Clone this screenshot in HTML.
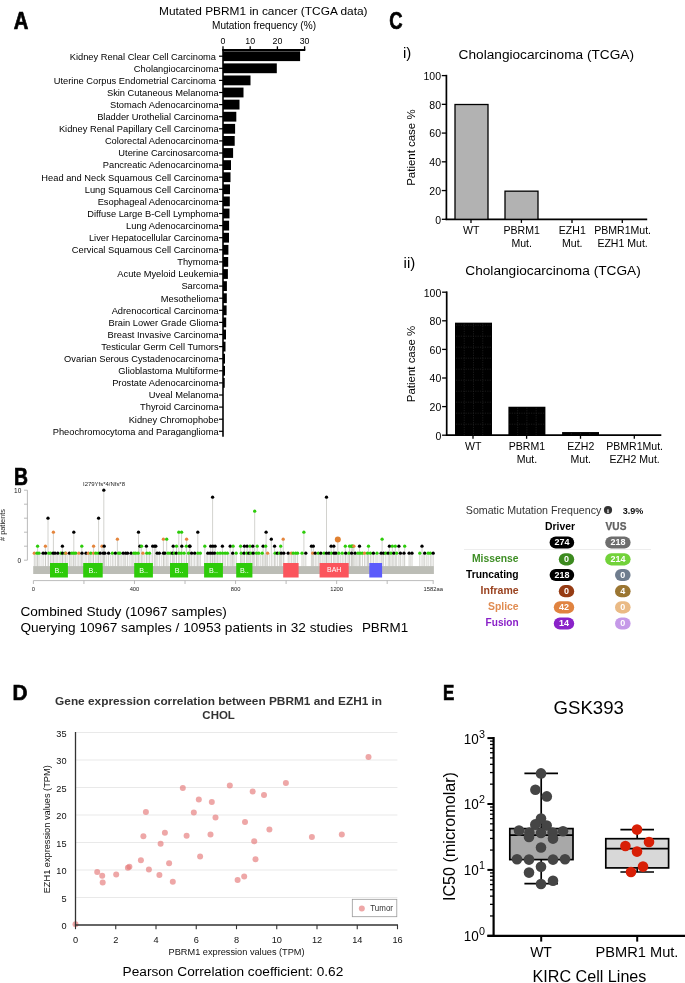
<!DOCTYPE html>
<html lang="en"><head><meta charset="utf-8"><title>PBRM1 figure</title>
<style>
html,body{margin:0;padding:0;background:#fff;}
body{width:685px;height:983px;overflow:hidden;}
svg{display:block;will-change:transform;font-family:"Liberation Sans",Arial,Helvetica,sans-serif;}
</style></head><body>
<svg width="685" height="983" viewBox="0 0 685 983">
<g id="panelA">
<text x="13.70" y="29.00" font-size="23.2" text-anchor="start" font-weight="bold" textLength="14.60" lengthAdjust="spacingAndGlyphs" stroke="#000" stroke-width="0.7">A</text>
<text x="159.00" y="15.00" font-size="11.5" text-anchor="start" textLength="208.50" lengthAdjust="spacingAndGlyphs">Mutated PBRM1 in cancer (TCGA data)</text>
<text x="212.00" y="29.40" font-size="10" text-anchor="start" textLength="104.00" lengthAdjust="spacingAndGlyphs">Mutation frequency (%)</text>
<text x="223.00" y="44.00" font-size="8.8" text-anchor="middle">0</text>
<line x1="223.00" y1="46.30" x2="223.00" y2="50.00" stroke="#000" stroke-width="1.3" />
<text x="250.20" y="44.00" font-size="8.8" text-anchor="middle">10</text>
<line x1="250.20" y1="46.30" x2="250.20" y2="50.00" stroke="#000" stroke-width="1.3" />
<text x="277.40" y="44.00" font-size="8.8" text-anchor="middle">20</text>
<line x1="277.40" y1="46.30" x2="277.40" y2="50.00" stroke="#000" stroke-width="1.3" />
<text x="304.60" y="44.00" font-size="8.8" text-anchor="middle">30</text>
<line x1="304.60" y1="46.30" x2="304.60" y2="50.00" stroke="#000" stroke-width="1.3" />
<line x1="222.30" y1="50.00" x2="305.30" y2="50.00" stroke="#000" stroke-width="2" />
<line x1="223.00" y1="49.00" x2="223.00" y2="436.80" stroke="#000" stroke-width="1.6" />
<line x1="219.00" y1="56.20" x2="223.00" y2="56.20" stroke="#000" stroke-width="1.2" />
<rect x="223.00" y="51.30" width="77.10" height="9.80" fill="#000"/>
<text x="218.6" y="59.50" font-size="9.3" text-anchor="end" xml:space="preserve">Kidney Renal Clear Cell Carcinoma </text>
<line x1="219.00" y1="68.30" x2="223.00" y2="68.30" stroke="#000" stroke-width="1.2" />
<rect x="223.00" y="63.40" width="53.80" height="9.80" fill="#000"/>
<text x="218.6" y="71.60" font-size="9.3" text-anchor="end" xml:space="preserve">Cholangiocarcinoma</text>
<line x1="219.00" y1="80.40" x2="223.00" y2="80.40" stroke="#000" stroke-width="1.2" />
<rect x="223.00" y="75.50" width="27.50" height="9.80" fill="#000"/>
<text x="218.6" y="83.70" font-size="9.3" text-anchor="end" xml:space="preserve">Uterine Corpus Endometrial Carcinoma </text>
<line x1="219.00" y1="92.50" x2="223.00" y2="92.50" stroke="#000" stroke-width="1.2" />
<rect x="223.00" y="87.60" width="20.50" height="9.80" fill="#000"/>
<text x="218.6" y="95.80" font-size="9.3" text-anchor="end" xml:space="preserve">Skin Cutaneous Melanoma</text>
<line x1="219.00" y1="104.60" x2="223.00" y2="104.60" stroke="#000" stroke-width="1.2" />
<rect x="223.00" y="99.70" width="16.50" height="9.80" fill="#000"/>
<text x="218.6" y="107.90" font-size="9.3" text-anchor="end" xml:space="preserve">Stomach Adenocarcinoma</text>
<line x1="219.00" y1="116.70" x2="223.00" y2="116.70" stroke="#000" stroke-width="1.2" />
<rect x="223.00" y="111.80" width="13.30" height="9.80" fill="#000"/>
<text x="218.6" y="120.00" font-size="9.3" text-anchor="end" xml:space="preserve">Bladder Urothelial Carcinoma</text>
<line x1="219.00" y1="128.80" x2="223.00" y2="128.80" stroke="#000" stroke-width="1.2" />
<rect x="223.00" y="123.90" width="12.10" height="9.80" fill="#000"/>
<text x="218.6" y="132.10" font-size="9.3" text-anchor="end" xml:space="preserve">Kidney Renal Papillary Cell Carcinoma</text>
<line x1="219.00" y1="140.90" x2="223.00" y2="140.90" stroke="#000" stroke-width="1.2" />
<rect x="223.00" y="136.00" width="11.70" height="9.80" fill="#000"/>
<text x="218.6" y="144.20" font-size="9.3" text-anchor="end" xml:space="preserve">Colorectal Adenocarcinoma</text>
<line x1="219.00" y1="153.00" x2="223.00" y2="153.00" stroke="#000" stroke-width="1.2" />
<rect x="223.00" y="148.10" width="10.10" height="9.80" fill="#000"/>
<text x="218.6" y="156.30" font-size="9.3" text-anchor="end" xml:space="preserve">Uterine Carcinosarcoma</text>
<line x1="219.00" y1="165.10" x2="223.00" y2="165.10" stroke="#000" stroke-width="1.2" />
<rect x="223.00" y="160.20" width="8.00" height="9.80" fill="#000"/>
<text x="218.6" y="168.40" font-size="9.3" text-anchor="end" xml:space="preserve">Pancreatic Adenocarcinoma</text>
<line x1="219.00" y1="177.20" x2="223.00" y2="177.20" stroke="#000" stroke-width="1.2" />
<rect x="223.00" y="172.30" width="7.50" height="9.80" fill="#000"/>
<text x="218.6" y="180.50" font-size="9.3" text-anchor="end" xml:space="preserve">Head and Neck Squamous Cell Carcinoma</text>
<line x1="219.00" y1="189.30" x2="223.00" y2="189.30" stroke="#000" stroke-width="1.2" />
<rect x="223.00" y="184.40" width="7.00" height="9.80" fill="#000"/>
<text x="218.6" y="192.60" font-size="9.3" text-anchor="end" xml:space="preserve">Lung Squamous Cell Carcinoma</text>
<line x1="219.00" y1="201.40" x2="223.00" y2="201.40" stroke="#000" stroke-width="1.2" />
<rect x="223.00" y="196.50" width="6.80" height="9.80" fill="#000"/>
<text x="218.6" y="204.70" font-size="9.3" text-anchor="end" xml:space="preserve">Esophageal Adenocarcinoma</text>
<line x1="219.00" y1="213.50" x2="223.00" y2="213.50" stroke="#000" stroke-width="1.2" />
<rect x="223.00" y="208.60" width="6.50" height="9.80" fill="#000"/>
<text x="218.6" y="216.80" font-size="9.3" text-anchor="end" xml:space="preserve">Diffuse Large B-Cell Lymphoma</text>
<line x1="219.00" y1="225.60" x2="223.00" y2="225.60" stroke="#000" stroke-width="1.2" />
<rect x="223.00" y="220.70" width="6.10" height="9.80" fill="#000"/>
<text x="218.6" y="228.90" font-size="9.3" text-anchor="end" xml:space="preserve">Lung Adenocarcinoma</text>
<line x1="219.00" y1="237.70" x2="223.00" y2="237.70" stroke="#000" stroke-width="1.2" />
<rect x="223.00" y="232.80" width="6.00" height="9.80" fill="#000"/>
<text x="218.6" y="241.00" font-size="9.3" text-anchor="end" xml:space="preserve">Liver Hepatocellular Carcinoma</text>
<line x1="219.00" y1="249.80" x2="223.00" y2="249.80" stroke="#000" stroke-width="1.2" />
<rect x="223.00" y="244.90" width="5.40" height="9.80" fill="#000"/>
<text x="218.6" y="253.10" font-size="9.3" text-anchor="end" xml:space="preserve">Cervical Squamous Cell Carcinoma</text>
<line x1="219.00" y1="261.90" x2="223.00" y2="261.90" stroke="#000" stroke-width="1.2" />
<rect x="223.00" y="257.00" width="5.20" height="9.80" fill="#000"/>
<text x="218.6" y="265.20" font-size="9.3" text-anchor="end" xml:space="preserve">Thymoma</text>
<line x1="219.00" y1="274.00" x2="223.00" y2="274.00" stroke="#000" stroke-width="1.2" />
<rect x="223.00" y="269.10" width="4.90" height="9.80" fill="#000"/>
<text x="218.6" y="277.30" font-size="9.3" text-anchor="end" xml:space="preserve">Acute Myeloid Leukemia</text>
<line x1="219.00" y1="286.10" x2="223.00" y2="286.10" stroke="#000" stroke-width="1.2" />
<rect x="223.00" y="281.20" width="3.90" height="9.80" fill="#000"/>
<text x="218.6" y="289.40" font-size="9.3" text-anchor="end" xml:space="preserve">Sarcoma</text>
<line x1="219.00" y1="298.20" x2="223.00" y2="298.20" stroke="#000" stroke-width="1.2" />
<rect x="223.00" y="293.30" width="3.80" height="9.80" fill="#000"/>
<text x="218.6" y="301.50" font-size="9.3" text-anchor="end" xml:space="preserve">Mesothelioma</text>
<line x1="219.00" y1="310.30" x2="223.00" y2="310.30" stroke="#000" stroke-width="1.2" />
<rect x="223.00" y="305.40" width="3.60" height="9.80" fill="#000"/>
<text x="218.6" y="313.60" font-size="9.3" text-anchor="end" xml:space="preserve">Adrenocortical Carcinoma</text>
<line x1="219.00" y1="322.40" x2="223.00" y2="322.40" stroke="#000" stroke-width="1.2" />
<rect x="223.00" y="317.50" width="3.20" height="9.80" fill="#000"/>
<text x="218.6" y="325.70" font-size="9.3" text-anchor="end" xml:space="preserve">Brain Lower Grade Glioma</text>
<line x1="219.00" y1="334.50" x2="223.00" y2="334.50" stroke="#000" stroke-width="1.2" />
<rect x="223.00" y="329.60" width="3.00" height="9.80" fill="#000"/>
<text x="218.6" y="337.80" font-size="9.3" text-anchor="end" xml:space="preserve">Breast Invasive Carcinoma</text>
<line x1="219.00" y1="346.60" x2="223.00" y2="346.60" stroke="#000" stroke-width="1.2" />
<rect x="223.00" y="341.70" width="2.50" height="9.80" fill="#000"/>
<text x="218.6" y="349.90" font-size="9.3" text-anchor="end" xml:space="preserve">Testicular Germ Cell Tumors</text>
<line x1="219.00" y1="358.70" x2="223.00" y2="358.70" stroke="#000" stroke-width="1.2" />
<rect x="223.00" y="353.80" width="2.00" height="9.80" fill="#000"/>
<text x="218.6" y="362.00" font-size="9.3" text-anchor="end" xml:space="preserve">Ovarian Serous Cystadenocarcinoma</text>
<line x1="219.00" y1="370.80" x2="223.00" y2="370.80" stroke="#000" stroke-width="1.2" />
<rect x="223.00" y="365.90" width="2.00" height="9.80" fill="#000"/>
<text x="218.6" y="374.10" font-size="9.3" text-anchor="end" xml:space="preserve">Glioblastoma Multiforme</text>
<line x1="219.00" y1="382.90" x2="223.00" y2="382.90" stroke="#000" stroke-width="1.2" />
<rect x="223.00" y="378.00" width="1.70" height="9.80" fill="#000"/>
<text x="218.6" y="386.20" font-size="9.3" text-anchor="end" xml:space="preserve">Prostate Adenocarcinoma</text>
<line x1="219.00" y1="395.00" x2="223.00" y2="395.00" stroke="#000" stroke-width="1.2" />
<text x="218.6" y="398.30" font-size="9.3" text-anchor="end" xml:space="preserve">Uveal Melanoma</text>
<line x1="219.00" y1="407.10" x2="223.00" y2="407.10" stroke="#000" stroke-width="1.2" />
<text x="218.6" y="410.40" font-size="9.3" text-anchor="end" xml:space="preserve">Thyroid Carcinoma</text>
<line x1="219.00" y1="419.20" x2="223.00" y2="419.20" stroke="#000" stroke-width="1.2" />
<text x="218.6" y="422.50" font-size="9.3" text-anchor="end" xml:space="preserve">Kidney Chromophobe</text>
<line x1="219.00" y1="431.30" x2="223.00" y2="431.30" stroke="#000" stroke-width="1.2" />
<text x="218.6" y="434.60" font-size="9.3" text-anchor="end" xml:space="preserve">Pheochromocytoma and Paraganglioma</text>
</g>
<g id="panelC">
<text x="389.20" y="29.00" font-size="23.4" text-anchor="start" font-weight="bold" textLength="13.30" lengthAdjust="spacingAndGlyphs" stroke="#000" stroke-width="0.7">C</text>
<text x="403.00" y="57.60" font-size="15" text-anchor="start">i)</text>
<text x="458.60" y="59.00" font-size="13.66" text-anchor="start" textLength="175.40" lengthAdjust="spacingAndGlyphs">Cholangiocarcinoma (TCGA)</text>
<line x1="446.40" y1="74.80" x2="446.40" y2="220.10" stroke="#000" stroke-width="1.7" />
<line x1="445.60" y1="219.30" x2="647.20" y2="219.30" stroke="#000" stroke-width="1.7" />
<line x1="441.80" y1="219.30" x2="446.40" y2="219.30" stroke="#000" stroke-width="1.3" />
<text x="441.00" y="223.70" font-size="10.5" text-anchor="end">0</text>
<line x1="441.80" y1="190.56" x2="446.40" y2="190.56" stroke="#000" stroke-width="1.3" />
<text x="441.00" y="194.96" font-size="10.5" text-anchor="end">20</text>
<line x1="441.80" y1="161.82" x2="446.40" y2="161.82" stroke="#000" stroke-width="1.3" />
<text x="441.00" y="166.22" font-size="10.5" text-anchor="end">40</text>
<line x1="441.80" y1="133.08" x2="446.40" y2="133.08" stroke="#000" stroke-width="1.3" />
<text x="441.00" y="137.48" font-size="10.5" text-anchor="end">60</text>
<line x1="441.80" y1="104.34" x2="446.40" y2="104.34" stroke="#000" stroke-width="1.3" />
<text x="441.00" y="108.74" font-size="10.5" text-anchor="end">80</text>
<line x1="441.80" y1="75.60" x2="446.40" y2="75.60" stroke="#000" stroke-width="1.3" />
<text x="441.00" y="80.00" font-size="10.5" text-anchor="end">100</text>
<text x="415.30" y="147.60" font-size="11.5" text-anchor="middle" textLength="76.40" lengthAdjust="spacingAndGlyphs" transform="rotate(-90 415.30 147.60)">Patient case %</text>
<rect x="455.00" y="104.51" width="33.00" height="114.79" fill="#b2b2b2" stroke="#000" stroke-width="1.3"/>
<rect x="505.00" y="191.16" width="33.00" height="28.14" fill="#b2b2b2" stroke="#000" stroke-width="1.3"/>
<line x1="471.00" y1="219.30" x2="471.00" y2="222.90" stroke="#000" stroke-width="1.3" />
<line x1="521.40" y1="219.30" x2="521.40" y2="222.90" stroke="#000" stroke-width="1.3" />
<line x1="572.00" y1="219.30" x2="572.00" y2="222.90" stroke="#000" stroke-width="1.3" />
<line x1="622.30" y1="219.30" x2="622.30" y2="222.90" stroke="#000" stroke-width="1.3" />
<text x="471.30" y="234.20" font-size="10.55" text-anchor="middle">WT</text>
<text x="521.70" y="234.20" font-size="10.55" text-anchor="middle">PBRM1</text>
<text x="521.70" y="246.50" font-size="10.55" text-anchor="middle">Mut.</text>
<text x="572.30" y="234.20" font-size="10.55" text-anchor="middle">EZH1</text>
<text x="572.30" y="246.50" font-size="10.55" text-anchor="middle">Mut.</text>
<text x="622.60" y="234.20" font-size="10.55" text-anchor="middle">PBMR1Mut.</text>
<text x="622.60" y="246.50" font-size="10.55" text-anchor="middle">EZH1 Mut.</text>
<text x="403.60" y="268.00" font-size="15" text-anchor="start">ii)</text>
<text x="465.30" y="275.00" font-size="13.66" text-anchor="start" textLength="175.40" lengthAdjust="spacingAndGlyphs">Cholangiocarcinoma (TCGA)</text>
<line x1="446.70" y1="291.40" x2="446.70" y2="436.00" stroke="#000" stroke-width="1.7" />
<line x1="445.90" y1="435.20" x2="661.30" y2="435.20" stroke="#000" stroke-width="1.7" />
<line x1="442.10" y1="435.20" x2="446.70" y2="435.20" stroke="#000" stroke-width="1.3" />
<text x="441.30" y="439.60" font-size="10.5" text-anchor="end">0</text>
<line x1="442.10" y1="406.60" x2="446.70" y2="406.60" stroke="#000" stroke-width="1.3" />
<text x="441.30" y="411.00" font-size="10.5" text-anchor="end">20</text>
<line x1="442.10" y1="378.00" x2="446.70" y2="378.00" stroke="#000" stroke-width="1.3" />
<text x="441.30" y="382.40" font-size="10.5" text-anchor="end">40</text>
<line x1="442.10" y1="349.40" x2="446.70" y2="349.40" stroke="#000" stroke-width="1.3" />
<text x="441.30" y="353.80" font-size="10.5" text-anchor="end">60</text>
<line x1="442.10" y1="320.80" x2="446.70" y2="320.80" stroke="#000" stroke-width="1.3" />
<text x="441.30" y="325.20" font-size="10.5" text-anchor="end">80</text>
<line x1="442.10" y1="292.20" x2="446.70" y2="292.20" stroke="#000" stroke-width="1.3" />
<text x="441.30" y="296.60" font-size="10.5" text-anchor="end">100</text>
<text x="415.30" y="364.00" font-size="11.5" text-anchor="middle" textLength="76.40" lengthAdjust="spacingAndGlyphs" transform="rotate(-90 415.30 364.00)">Patient case %</text>
<rect x="455.00" y="322.66" width="37.00" height="112.54" fill="#000"/>
<line x1="464.25" y1="323.66" x2="464.25" y2="435.20" stroke="#2b2b2b" stroke-width="0.6" stroke-dasharray="1.2 1.2"/>
<line x1="473.50" y1="323.66" x2="473.50" y2="435.20" stroke="#2b2b2b" stroke-width="0.6" stroke-dasharray="1.2 1.2"/>
<line x1="482.75" y1="323.66" x2="482.75" y2="435.20" stroke="#2b2b2b" stroke-width="0.6" stroke-dasharray="1.2 1.2"/>
<line x1="456.00" y1="424.20" x2="491.00" y2="424.20" stroke="#2b2b2b" stroke-width="0.6" stroke-dasharray="1.2 1.2"/>
<line x1="456.00" y1="413.20" x2="491.00" y2="413.20" stroke="#2b2b2b" stroke-width="0.6" stroke-dasharray="1.2 1.2"/>
<line x1="456.00" y1="402.20" x2="491.00" y2="402.20" stroke="#2b2b2b" stroke-width="0.6" stroke-dasharray="1.2 1.2"/>
<line x1="456.00" y1="391.20" x2="491.00" y2="391.20" stroke="#2b2b2b" stroke-width="0.6" stroke-dasharray="1.2 1.2"/>
<line x1="456.00" y1="380.20" x2="491.00" y2="380.20" stroke="#2b2b2b" stroke-width="0.6" stroke-dasharray="1.2 1.2"/>
<line x1="456.00" y1="369.20" x2="491.00" y2="369.20" stroke="#2b2b2b" stroke-width="0.6" stroke-dasharray="1.2 1.2"/>
<line x1="456.00" y1="358.20" x2="491.00" y2="358.20" stroke="#2b2b2b" stroke-width="0.6" stroke-dasharray="1.2 1.2"/>
<line x1="456.00" y1="347.20" x2="491.00" y2="347.20" stroke="#2b2b2b" stroke-width="0.6" stroke-dasharray="1.2 1.2"/>
<line x1="456.00" y1="336.20" x2="491.00" y2="336.20" stroke="#2b2b2b" stroke-width="0.6" stroke-dasharray="1.2 1.2"/>
<line x1="456.00" y1="325.20" x2="491.00" y2="325.20" stroke="#2b2b2b" stroke-width="0.6" stroke-dasharray="1.2 1.2"/>
<rect x="508.40" y="406.74" width="37.00" height="28.46" fill="#000"/>
<line x1="517.65" y1="407.74" x2="517.65" y2="435.20" stroke="#2b2b2b" stroke-width="0.6" stroke-dasharray="1.2 1.2"/>
<line x1="526.90" y1="407.74" x2="526.90" y2="435.20" stroke="#2b2b2b" stroke-width="0.6" stroke-dasharray="1.2 1.2"/>
<line x1="536.15" y1="407.74" x2="536.15" y2="435.20" stroke="#2b2b2b" stroke-width="0.6" stroke-dasharray="1.2 1.2"/>
<line x1="509.40" y1="424.20" x2="544.40" y2="424.20" stroke="#2b2b2b" stroke-width="0.6" stroke-dasharray="1.2 1.2"/>
<line x1="509.40" y1="413.20" x2="544.40" y2="413.20" stroke="#2b2b2b" stroke-width="0.6" stroke-dasharray="1.2 1.2"/>
<rect x="562.10" y="432.05" width="36.90" height="3.15" fill="#000"/>
<line x1="571.33" y1="433.05" x2="571.33" y2="435.20" stroke="#2b2b2b" stroke-width="0.6" stroke-dasharray="1.2 1.2"/>
<line x1="580.55" y1="433.05" x2="580.55" y2="435.20" stroke="#2b2b2b" stroke-width="0.6" stroke-dasharray="1.2 1.2"/>
<line x1="589.77" y1="433.05" x2="589.77" y2="435.20" stroke="#2b2b2b" stroke-width="0.6" stroke-dasharray="1.2 1.2"/>
<line x1="473.00" y1="435.20" x2="473.00" y2="438.80" stroke="#000" stroke-width="1.3" />
<line x1="526.60" y1="435.20" x2="526.60" y2="438.80" stroke="#000" stroke-width="1.3" />
<line x1="580.50" y1="435.20" x2="580.50" y2="438.80" stroke="#000" stroke-width="1.3" />
<line x1="634.30" y1="435.20" x2="634.30" y2="438.80" stroke="#000" stroke-width="1.3" />
<text x="473.30" y="450.40" font-size="10.55" text-anchor="middle">WT</text>
<text x="526.90" y="450.40" font-size="10.55" text-anchor="middle">PBRM1</text>
<text x="526.90" y="462.70" font-size="10.55" text-anchor="middle">Mut.</text>
<text x="580.80" y="450.40" font-size="10.55" text-anchor="middle">EZH2</text>
<text x="580.80" y="462.70" font-size="10.55" text-anchor="middle">Mut.</text>
<text x="634.60" y="450.40" font-size="10.55" text-anchor="middle">PBMR1Mut.</text>
<text x="634.60" y="462.70" font-size="10.55" text-anchor="middle">EZH2 Mut.</text>
</g>
<g id="panelB">
<text x="13.95" y="484.90" font-size="23.0" text-anchor="start" font-weight="bold" textLength="14.00" lengthAdjust="spacingAndGlyphs" stroke="#000" stroke-width="0.7">B</text>
<line x1="27.40" y1="490.20" x2="27.40" y2="560.20" stroke="#aaa" stroke-width="0.8" />
<line x1="24.00" y1="560.20" x2="27.40" y2="560.20" stroke="#aaa" stroke-width="0.8" />
<line x1="24.00" y1="546.20" x2="27.40" y2="546.20" stroke="#aaa" stroke-width="0.8" />
<line x1="24.00" y1="532.20" x2="27.40" y2="532.20" stroke="#aaa" stroke-width="0.8" />
<line x1="24.00" y1="518.20" x2="27.40" y2="518.20" stroke="#aaa" stroke-width="0.8" />
<line x1="24.00" y1="504.20" x2="27.40" y2="504.20" stroke="#aaa" stroke-width="0.8" />
<line x1="24.00" y1="490.20" x2="27.40" y2="490.20" stroke="#aaa" stroke-width="0.8" />
<text x="21.30" y="492.60" font-size="6.5" text-anchor="end" fill="#111">10</text>
<text x="21.10" y="562.60" font-size="6.5" text-anchor="end" fill="#111">0</text>
<text x="5.40" y="525.00" font-size="7" text-anchor="middle" fill="#222" textLength="32.00" lengthAdjust="spacingAndGlyphs" transform="rotate(-90 5.40 525.00)"># patients</text>
<text x="83.00" y="486.00" font-size="5.6" text-anchor="start" fill="#222" textLength="42.00" lengthAdjust="spacingAndGlyphs">I279Yfs*4/Nfs*8</text>
<line x1="34.30" y1="553.20" x2="34.30" y2="566.50" stroke="#c6c6c2" stroke-width="0.8" />
<line x1="37.00" y1="553.20" x2="37.00" y2="566.50" stroke="#c6c6c2" stroke-width="0.8" />
<line x1="37.60" y1="546.20" x2="37.60" y2="566.50" stroke="#c6c6c2" stroke-width="0.8" />
<line x1="39.00" y1="553.20" x2="39.00" y2="566.50" stroke="#c6c6c2" stroke-width="0.8" />
<line x1="43.10" y1="553.20" x2="43.10" y2="566.50" stroke="#c6c6c2" stroke-width="0.8" />
<line x1="45.40" y1="546.20" x2="45.40" y2="566.50" stroke="#c6c6c2" stroke-width="0.8" />
<line x1="45.60" y1="553.20" x2="45.60" y2="566.50" stroke="#c6c6c2" stroke-width="0.8" />
<line x1="48.00" y1="518.20" x2="48.00" y2="566.50" stroke="#c6c6c2" stroke-width="0.8" />
<line x1="48.70" y1="553.20" x2="48.70" y2="566.50" stroke="#c6c6c2" stroke-width="0.8" />
<line x1="50.60" y1="553.20" x2="50.60" y2="566.50" stroke="#c6c6c2" stroke-width="0.8" />
<line x1="53.10" y1="553.20" x2="53.10" y2="566.50" stroke="#c6c6c2" stroke-width="0.8" />
<line x1="53.40" y1="532.20" x2="53.40" y2="566.50" stroke="#c6c6c2" stroke-width="0.8" />
<line x1="55.00" y1="553.20" x2="55.00" y2="566.50" stroke="#c6c6c2" stroke-width="0.8" />
<line x1="57.80" y1="553.20" x2="57.80" y2="566.50" stroke="#c6c6c2" stroke-width="0.8" />
<line x1="60.90" y1="553.20" x2="60.90" y2="566.50" stroke="#c6c6c2" stroke-width="0.8" />
<line x1="62.40" y1="546.20" x2="62.40" y2="566.50" stroke="#c6c6c2" stroke-width="0.8" />
<line x1="62.50" y1="553.20" x2="62.50" y2="566.50" stroke="#c6c6c2" stroke-width="0.8" />
<line x1="65.20" y1="553.20" x2="65.20" y2="566.50" stroke="#c6c6c2" stroke-width="0.8" />
<line x1="65.90" y1="553.20" x2="65.90" y2="566.50" stroke="#c6c6c2" stroke-width="0.8" />
<line x1="69.40" y1="553.20" x2="69.40" y2="566.50" stroke="#c6c6c2" stroke-width="0.8" />
<line x1="71.90" y1="553.20" x2="71.90" y2="566.50" stroke="#c6c6c2" stroke-width="0.8" />
<line x1="73.80" y1="553.20" x2="73.80" y2="566.50" stroke="#c6c6c2" stroke-width="0.8" />
<line x1="73.80" y1="532.20" x2="73.80" y2="566.50" stroke="#c6c6c2" stroke-width="0.8" />
<line x1="75.70" y1="553.20" x2="75.70" y2="566.50" stroke="#c6c6c2" stroke-width="0.8" />
<line x1="78.80" y1="553.20" x2="78.80" y2="566.50" stroke="#c6c6c2" stroke-width="0.8" />
<line x1="81.80" y1="546.20" x2="81.80" y2="566.50" stroke="#c6c6c2" stroke-width="0.8" />
<line x1="82.00" y1="553.20" x2="82.00" y2="566.50" stroke="#c6c6c2" stroke-width="0.8" />
<line x1="86.00" y1="553.20" x2="86.00" y2="566.50" stroke="#c6c6c2" stroke-width="0.8" />
<line x1="88.30" y1="553.20" x2="88.30" y2="566.50" stroke="#c6c6c2" stroke-width="0.8" />
<line x1="90.80" y1="553.20" x2="90.80" y2="566.50" stroke="#c6c6c2" stroke-width="0.8" />
<line x1="93.50" y1="553.20" x2="93.50" y2="566.50" stroke="#c6c6c2" stroke-width="0.8" />
<line x1="93.60" y1="546.20" x2="93.60" y2="566.50" stroke="#c6c6c2" stroke-width="0.8" />
<line x1="95.80" y1="553.20" x2="95.80" y2="566.50" stroke="#c6c6c2" stroke-width="0.8" />
<line x1="98.30" y1="553.20" x2="98.30" y2="566.50" stroke="#c6c6c2" stroke-width="0.8" />
<line x1="98.60" y1="518.20" x2="98.60" y2="566.50" stroke="#c6c6c2" stroke-width="0.8" />
<line x1="100.20" y1="553.20" x2="100.20" y2="566.50" stroke="#c6c6c2" stroke-width="0.8" />
<line x1="102.00" y1="546.20" x2="102.00" y2="566.50" stroke="#c6c6c2" stroke-width="0.8" />
<line x1="103.30" y1="553.20" x2="103.30" y2="566.50" stroke="#c6c6c2" stroke-width="0.8" />
<line x1="103.80" y1="490.20" x2="103.80" y2="566.50" stroke="#c6c6c2" stroke-width="0.8" />
<line x1="104.20" y1="546.20" x2="104.20" y2="566.50" stroke="#c6c6c2" stroke-width="0.8" />
<line x1="104.80" y1="553.20" x2="104.80" y2="566.50" stroke="#c6c6c2" stroke-width="0.8" />
<line x1="108.60" y1="553.20" x2="108.60" y2="566.50" stroke="#c6c6c2" stroke-width="0.8" />
<line x1="112.30" y1="553.20" x2="112.30" y2="566.50" stroke="#c6c6c2" stroke-width="0.8" />
<line x1="115.40" y1="553.20" x2="115.40" y2="566.50" stroke="#c6c6c2" stroke-width="0.8" />
<line x1="117.40" y1="539.20" x2="117.40" y2="566.50" stroke="#c6c6c2" stroke-width="0.8" />
<line x1="118.50" y1="553.20" x2="118.50" y2="566.50" stroke="#c6c6c2" stroke-width="0.8" />
<line x1="120.00" y1="553.20" x2="120.00" y2="566.50" stroke="#c6c6c2" stroke-width="0.8" />
<line x1="123.20" y1="553.20" x2="123.20" y2="566.50" stroke="#c6c6c2" stroke-width="0.8" />
<line x1="125.70" y1="553.20" x2="125.70" y2="566.50" stroke="#c6c6c2" stroke-width="0.8" />
<line x1="127.60" y1="553.20" x2="127.60" y2="566.50" stroke="#c6c6c2" stroke-width="0.8" />
<line x1="131.10" y1="553.20" x2="131.10" y2="566.50" stroke="#c6c6c2" stroke-width="0.8" />
<line x1="133.90" y1="553.20" x2="133.90" y2="566.50" stroke="#c6c6c2" stroke-width="0.8" />
<line x1="135.70" y1="553.20" x2="135.70" y2="566.50" stroke="#c6c6c2" stroke-width="0.8" />
<line x1="138.20" y1="553.20" x2="138.20" y2="566.50" stroke="#c6c6c2" stroke-width="0.8" />
<line x1="138.50" y1="532.20" x2="138.50" y2="566.50" stroke="#c6c6c2" stroke-width="0.8" />
<line x1="139.90" y1="546.20" x2="139.90" y2="566.50" stroke="#c6c6c2" stroke-width="0.8" />
<line x1="141.60" y1="546.20" x2="141.60" y2="566.50" stroke="#c6c6c2" stroke-width="0.8" />
<line x1="142.90" y1="553.20" x2="142.90" y2="566.50" stroke="#c6c6c2" stroke-width="0.8" />
<line x1="146.40" y1="546.20" x2="146.40" y2="566.50" stroke="#c6c6c2" stroke-width="0.8" />
<line x1="146.80" y1="553.20" x2="146.80" y2="566.50" stroke="#c6c6c2" stroke-width="0.8" />
<line x1="149.50" y1="553.20" x2="149.50" y2="566.50" stroke="#c6c6c2" stroke-width="0.8" />
<line x1="152.70" y1="546.20" x2="152.70" y2="566.50" stroke="#c6c6c2" stroke-width="0.8" />
<line x1="154.60" y1="546.20" x2="154.60" y2="566.50" stroke="#c6c6c2" stroke-width="0.8" />
<line x1="155.80" y1="546.20" x2="155.80" y2="566.50" stroke="#c6c6c2" stroke-width="0.8" />
<line x1="157.10" y1="553.20" x2="157.10" y2="566.50" stroke="#c6c6c2" stroke-width="0.8" />
<line x1="159.30" y1="553.20" x2="159.30" y2="566.50" stroke="#c6c6c2" stroke-width="0.8" />
<line x1="163.40" y1="553.20" x2="163.40" y2="566.50" stroke="#c6c6c2" stroke-width="0.8" />
<line x1="163.40" y1="539.20" x2="163.40" y2="566.50" stroke="#c6c6c2" stroke-width="0.8" />
<line x1="164.90" y1="553.20" x2="164.90" y2="566.50" stroke="#c6c6c2" stroke-width="0.8" />
<line x1="166.70" y1="539.20" x2="166.70" y2="566.50" stroke="#c6c6c2" stroke-width="0.8" />
<line x1="168.00" y1="553.20" x2="168.00" y2="566.50" stroke="#c6c6c2" stroke-width="0.8" />
<line x1="170.30" y1="553.20" x2="170.30" y2="566.50" stroke="#c6c6c2" stroke-width="0.8" />
<line x1="172.40" y1="553.20" x2="172.40" y2="566.50" stroke="#c6c6c2" stroke-width="0.8" />
<line x1="173.20" y1="546.20" x2="173.20" y2="566.50" stroke="#c6c6c2" stroke-width="0.8" />
<line x1="174.30" y1="553.20" x2="174.30" y2="566.50" stroke="#c6c6c2" stroke-width="0.8" />
<line x1="176.30" y1="553.20" x2="176.30" y2="566.50" stroke="#c6c6c2" stroke-width="0.8" />
<line x1="176.50" y1="546.20" x2="176.50" y2="566.50" stroke="#c6c6c2" stroke-width="0.8" />
<line x1="178.80" y1="532.20" x2="178.80" y2="566.50" stroke="#c6c6c2" stroke-width="0.8" />
<line x1="179.00" y1="553.20" x2="179.00" y2="566.50" stroke="#c6c6c2" stroke-width="0.8" />
<line x1="181.30" y1="553.20" x2="181.30" y2="566.50" stroke="#c6c6c2" stroke-width="0.8" />
<line x1="181.60" y1="532.20" x2="181.60" y2="566.50" stroke="#c6c6c2" stroke-width="0.8" />
<line x1="181.80" y1="546.20" x2="181.80" y2="566.50" stroke="#c6c6c2" stroke-width="0.8" />
<line x1="184.10" y1="553.20" x2="184.10" y2="566.50" stroke="#c6c6c2" stroke-width="0.8" />
<line x1="186.30" y1="546.20" x2="186.30" y2="566.50" stroke="#c6c6c2" stroke-width="0.8" />
<line x1="186.60" y1="539.20" x2="186.60" y2="566.50" stroke="#c6c6c2" stroke-width="0.8" />
<line x1="188.50" y1="553.20" x2="188.50" y2="566.50" stroke="#c6c6c2" stroke-width="0.8" />
<line x1="189.50" y1="546.20" x2="189.50" y2="566.50" stroke="#c6c6c2" stroke-width="0.8" />
<line x1="190.00" y1="546.20" x2="190.00" y2="566.50" stroke="#c6c6c2" stroke-width="0.8" />
<line x1="191.60" y1="553.20" x2="191.60" y2="566.50" stroke="#c6c6c2" stroke-width="0.8" />
<line x1="194.70" y1="553.20" x2="194.70" y2="566.50" stroke="#c6c6c2" stroke-width="0.8" />
<line x1="197.80" y1="553.20" x2="197.80" y2="566.50" stroke="#c6c6c2" stroke-width="0.8" />
<line x1="197.80" y1="532.20" x2="197.80" y2="566.50" stroke="#c6c6c2" stroke-width="0.8" />
<line x1="200.30" y1="553.20" x2="200.30" y2="566.50" stroke="#c6c6c2" stroke-width="0.8" />
<line x1="204.80" y1="546.20" x2="204.80" y2="566.50" stroke="#c6c6c2" stroke-width="0.8" />
<line x1="207.80" y1="553.20" x2="207.80" y2="566.50" stroke="#c6c6c2" stroke-width="0.8" />
<line x1="210.10" y1="553.20" x2="210.10" y2="566.50" stroke="#c6c6c2" stroke-width="0.8" />
<line x1="210.70" y1="546.20" x2="210.70" y2="566.50" stroke="#c6c6c2" stroke-width="0.8" />
<line x1="212.30" y1="553.20" x2="212.30" y2="566.50" stroke="#c6c6c2" stroke-width="0.8" />
<line x1="212.60" y1="497.20" x2="212.60" y2="566.50" stroke="#c6c6c2" stroke-width="0.8" />
<line x1="212.90" y1="546.20" x2="212.90" y2="566.50" stroke="#c6c6c2" stroke-width="0.8" />
<line x1="214.50" y1="553.20" x2="214.50" y2="566.50" stroke="#c6c6c2" stroke-width="0.8" />
<line x1="215.10" y1="546.20" x2="215.10" y2="566.50" stroke="#c6c6c2" stroke-width="0.8" />
<line x1="217.60" y1="553.20" x2="217.60" y2="566.50" stroke="#c6c6c2" stroke-width="0.8" />
<line x1="220.10" y1="553.20" x2="220.10" y2="566.50" stroke="#c6c6c2" stroke-width="0.8" />
<line x1="222.40" y1="546.20" x2="222.40" y2="566.50" stroke="#c6c6c2" stroke-width="0.8" />
<line x1="222.60" y1="553.20" x2="222.60" y2="566.50" stroke="#c6c6c2" stroke-width="0.8" />
<line x1="225.20" y1="553.20" x2="225.20" y2="566.50" stroke="#c6c6c2" stroke-width="0.8" />
<line x1="227.40" y1="553.20" x2="227.40" y2="566.50" stroke="#c6c6c2" stroke-width="0.8" />
<line x1="230.20" y1="546.20" x2="230.20" y2="566.50" stroke="#c6c6c2" stroke-width="0.8" />
<line x1="232.70" y1="553.20" x2="232.70" y2="566.50" stroke="#c6c6c2" stroke-width="0.8" />
<line x1="233.10" y1="546.20" x2="233.10" y2="566.50" stroke="#c6c6c2" stroke-width="0.8" />
<line x1="236.20" y1="553.20" x2="236.20" y2="566.50" stroke="#c6c6c2" stroke-width="0.8" />
<line x1="240.60" y1="546.20" x2="240.60" y2="566.50" stroke="#c6c6c2" stroke-width="0.8" />
<line x1="241.20" y1="553.20" x2="241.20" y2="566.50" stroke="#c6c6c2" stroke-width="0.8" />
<line x1="244.00" y1="553.20" x2="244.00" y2="566.50" stroke="#c6c6c2" stroke-width="0.8" />
<line x1="244.40" y1="546.20" x2="244.40" y2="566.50" stroke="#c6c6c2" stroke-width="0.8" />
<line x1="246.70" y1="553.20" x2="246.70" y2="566.50" stroke="#c6c6c2" stroke-width="0.8" />
<line x1="247.10" y1="546.20" x2="247.10" y2="566.50" stroke="#c6c6c2" stroke-width="0.8" />
<line x1="248.80" y1="553.20" x2="248.80" y2="566.50" stroke="#c6c6c2" stroke-width="0.8" />
<line x1="250.00" y1="546.20" x2="250.00" y2="566.50" stroke="#c6c6c2" stroke-width="0.8" />
<line x1="250.90" y1="553.20" x2="250.90" y2="566.50" stroke="#c6c6c2" stroke-width="0.8" />
<line x1="252.80" y1="546.20" x2="252.80" y2="566.50" stroke="#c6c6c2" stroke-width="0.8" />
<line x1="253.20" y1="553.20" x2="253.20" y2="566.50" stroke="#c6c6c2" stroke-width="0.8" />
<line x1="254.70" y1="511.20" x2="254.70" y2="566.50" stroke="#c6c6c2" stroke-width="0.8" />
<line x1="256.50" y1="553.20" x2="256.50" y2="566.50" stroke="#c6c6c2" stroke-width="0.8" />
<line x1="257.20" y1="546.20" x2="257.20" y2="566.50" stroke="#c6c6c2" stroke-width="0.8" />
<line x1="258.80" y1="553.20" x2="258.80" y2="566.50" stroke="#c6c6c2" stroke-width="0.8" />
<line x1="262.20" y1="553.20" x2="262.20" y2="566.50" stroke="#c6c6c2" stroke-width="0.8" />
<line x1="263.10" y1="546.20" x2="263.10" y2="566.50" stroke="#c6c6c2" stroke-width="0.8" />
<line x1="265.70" y1="546.20" x2="265.70" y2="566.50" stroke="#c6c6c2" stroke-width="0.8" />
<line x1="266.10" y1="532.20" x2="266.10" y2="566.50" stroke="#c6c6c2" stroke-width="0.8" />
<line x1="267.60" y1="553.20" x2="267.60" y2="566.50" stroke="#c6c6c2" stroke-width="0.8" />
<line x1="271.30" y1="539.20" x2="271.30" y2="566.50" stroke="#c6c6c2" stroke-width="0.8" />
<line x1="274.60" y1="546.20" x2="274.60" y2="566.50" stroke="#c6c6c2" stroke-width="0.8" />
<line x1="275.10" y1="553.20" x2="275.10" y2="566.50" stroke="#c6c6c2" stroke-width="0.8" />
<line x1="277.30" y1="553.20" x2="277.30" y2="566.50" stroke="#c6c6c2" stroke-width="0.8" />
<line x1="279.40" y1="553.20" x2="279.40" y2="566.50" stroke="#c6c6c2" stroke-width="0.8" />
<line x1="280.70" y1="546.20" x2="280.70" y2="566.50" stroke="#c6c6c2" stroke-width="0.8" />
<line x1="281.30" y1="553.20" x2="281.30" y2="566.50" stroke="#c6c6c2" stroke-width="0.8" />
<line x1="283.20" y1="539.20" x2="283.20" y2="566.50" stroke="#c6c6c2" stroke-width="0.8" />
<line x1="283.80" y1="553.20" x2="283.80" y2="566.50" stroke="#c6c6c2" stroke-width="0.8" />
<line x1="288.20" y1="553.20" x2="288.20" y2="566.50" stroke="#c6c6c2" stroke-width="0.8" />
<line x1="291.30" y1="553.20" x2="291.30" y2="566.50" stroke="#c6c6c2" stroke-width="0.8" />
<line x1="293.20" y1="553.20" x2="293.20" y2="566.50" stroke="#c6c6c2" stroke-width="0.8" />
<line x1="295.70" y1="553.20" x2="295.70" y2="566.50" stroke="#c6c6c2" stroke-width="0.8" />
<line x1="297.60" y1="553.20" x2="297.60" y2="566.50" stroke="#c6c6c2" stroke-width="0.8" />
<line x1="302.00" y1="553.20" x2="302.00" y2="566.50" stroke="#c6c6c2" stroke-width="0.8" />
<line x1="303.90" y1="532.20" x2="303.90" y2="566.50" stroke="#c6c6c2" stroke-width="0.8" />
<line x1="305.80" y1="553.20" x2="305.80" y2="566.50" stroke="#c6c6c2" stroke-width="0.8" />
<line x1="311.40" y1="546.20" x2="311.40" y2="566.50" stroke="#c6c6c2" stroke-width="0.8" />
<line x1="312.70" y1="553.20" x2="312.70" y2="566.50" stroke="#c6c6c2" stroke-width="0.8" />
<line x1="313.30" y1="546.20" x2="313.30" y2="566.50" stroke="#c6c6c2" stroke-width="0.8" />
<line x1="315.20" y1="553.20" x2="315.20" y2="566.50" stroke="#c6c6c2" stroke-width="0.8" />
<line x1="318.30" y1="553.20" x2="318.30" y2="566.50" stroke="#c6c6c2" stroke-width="0.8" />
<line x1="320.80" y1="553.20" x2="320.80" y2="566.50" stroke="#c6c6c2" stroke-width="0.8" />
<line x1="324.00" y1="553.20" x2="324.00" y2="566.50" stroke="#c6c6c2" stroke-width="0.8" />
<line x1="326.50" y1="553.20" x2="326.50" y2="566.50" stroke="#c6c6c2" stroke-width="0.8" />
<line x1="326.50" y1="497.20" x2="326.50" y2="566.50" stroke="#c6c6c2" stroke-width="0.8" />
<line x1="329.00" y1="553.20" x2="329.00" y2="566.50" stroke="#c6c6c2" stroke-width="0.8" />
<line x1="331.10" y1="546.20" x2="331.10" y2="566.50" stroke="#c6c6c2" stroke-width="0.8" />
<line x1="331.50" y1="553.20" x2="331.50" y2="566.50" stroke="#c6c6c2" stroke-width="0.8" />
<line x1="333.80" y1="546.20" x2="333.80" y2="566.50" stroke="#c6c6c2" stroke-width="0.8" />
<line x1="334.00" y1="553.20" x2="334.00" y2="566.50" stroke="#c6c6c2" stroke-width="0.8" />
<line x1="335.90" y1="553.20" x2="335.90" y2="566.50" stroke="#c6c6c2" stroke-width="0.8" />
<line x1="338.80" y1="553.20" x2="338.80" y2="566.50" stroke="#c6c6c2" stroke-width="0.8" />
<line x1="342.20" y1="553.20" x2="342.20" y2="566.50" stroke="#c6c6c2" stroke-width="0.8" />
<line x1="345.30" y1="546.20" x2="345.30" y2="566.50" stroke="#c6c6c2" stroke-width="0.8" />
<line x1="345.70" y1="553.20" x2="345.70" y2="566.50" stroke="#c6c6c2" stroke-width="0.8" />
<line x1="348.80" y1="553.20" x2="348.80" y2="566.50" stroke="#c6c6c2" stroke-width="0.8" />
<line x1="349.50" y1="546.20" x2="349.50" y2="566.50" stroke="#c6c6c2" stroke-width="0.8" />
<line x1="351.20" y1="546.20" x2="351.20" y2="566.50" stroke="#c6c6c2" stroke-width="0.8" />
<line x1="351.60" y1="553.20" x2="351.60" y2="566.50" stroke="#c6c6c2" stroke-width="0.8" />
<line x1="352.20" y1="546.20" x2="352.20" y2="566.50" stroke="#c6c6c2" stroke-width="0.8" />
<line x1="352.90" y1="546.20" x2="352.90" y2="566.50" stroke="#c6c6c2" stroke-width="0.8" />
<line x1="353.90" y1="546.20" x2="353.90" y2="566.50" stroke="#c6c6c2" stroke-width="0.8" />
<line x1="355.10" y1="553.20" x2="355.10" y2="566.50" stroke="#c6c6c2" stroke-width="0.8" />
<line x1="358.00" y1="553.20" x2="358.00" y2="566.50" stroke="#c6c6c2" stroke-width="0.8" />
<line x1="359.50" y1="546.20" x2="359.50" y2="566.50" stroke="#c6c6c2" stroke-width="0.8" />
<line x1="360.20" y1="553.20" x2="360.20" y2="566.50" stroke="#c6c6c2" stroke-width="0.8" />
<line x1="362.40" y1="553.20" x2="362.40" y2="566.50" stroke="#c6c6c2" stroke-width="0.8" />
<line x1="364.60" y1="553.20" x2="364.60" y2="566.50" stroke="#c6c6c2" stroke-width="0.8" />
<line x1="367.50" y1="553.20" x2="367.50" y2="566.50" stroke="#c6c6c2" stroke-width="0.8" />
<line x1="368.50" y1="546.20" x2="368.50" y2="566.50" stroke="#c6c6c2" stroke-width="0.8" />
<line x1="370.40" y1="553.20" x2="370.40" y2="566.50" stroke="#c6c6c2" stroke-width="0.8" />
<line x1="373.40" y1="553.20" x2="373.40" y2="566.50" stroke="#c6c6c2" stroke-width="0.8" />
<line x1="377.00" y1="553.20" x2="377.00" y2="566.50" stroke="#c6c6c2" stroke-width="0.8" />
<line x1="381.10" y1="553.20" x2="381.10" y2="566.50" stroke="#c6c6c2" stroke-width="0.8" />
<line x1="382.10" y1="539.20" x2="382.10" y2="566.50" stroke="#c6c6c2" stroke-width="0.8" />
<line x1="383.60" y1="553.20" x2="383.60" y2="566.50" stroke="#c6c6c2" stroke-width="0.8" />
<line x1="385.80" y1="553.20" x2="385.80" y2="566.50" stroke="#c6c6c2" stroke-width="0.8" />
<line x1="388.20" y1="553.20" x2="388.20" y2="566.50" stroke="#c6c6c2" stroke-width="0.8" />
<line x1="389.40" y1="546.20" x2="389.40" y2="566.50" stroke="#c6c6c2" stroke-width="0.8" />
<line x1="390.90" y1="553.20" x2="390.90" y2="566.50" stroke="#c6c6c2" stroke-width="0.8" />
<line x1="392.30" y1="546.20" x2="392.30" y2="566.50" stroke="#c6c6c2" stroke-width="0.8" />
<line x1="393.80" y1="553.20" x2="393.80" y2="566.50" stroke="#c6c6c2" stroke-width="0.8" />
<line x1="395.30" y1="546.20" x2="395.30" y2="566.50" stroke="#c6c6c2" stroke-width="0.8" />
<line x1="396.70" y1="553.20" x2="396.70" y2="566.50" stroke="#c6c6c2" stroke-width="0.8" />
<line x1="398.90" y1="546.20" x2="398.90" y2="566.50" stroke="#c6c6c2" stroke-width="0.8" />
<line x1="400.40" y1="553.20" x2="400.40" y2="566.50" stroke="#c6c6c2" stroke-width="0.8" />
<line x1="404.00" y1="553.20" x2="404.00" y2="566.50" stroke="#c6c6c2" stroke-width="0.8" />
<line x1="404.70" y1="546.20" x2="404.70" y2="566.50" stroke="#c6c6c2" stroke-width="0.8" />
<line x1="409.10" y1="553.20" x2="409.10" y2="566.50" stroke="#c6c6c2" stroke-width="0.8" />
<line x1="412.00" y1="553.20" x2="412.00" y2="566.50" stroke="#c6c6c2" stroke-width="0.8" />
<line x1="419.80" y1="553.20" x2="419.80" y2="566.50" stroke="#c6c6c2" stroke-width="0.8" />
<line x1="422.00" y1="546.20" x2="422.00" y2="566.50" stroke="#c6c6c2" stroke-width="0.8" />
<line x1="424.70" y1="553.20" x2="424.70" y2="566.50" stroke="#c6c6c2" stroke-width="0.8" />
<line x1="428.10" y1="553.20" x2="428.10" y2="566.50" stroke="#c6c6c2" stroke-width="0.8" />
<line x1="430.30" y1="553.20" x2="430.30" y2="566.50" stroke="#c6c6c2" stroke-width="0.8" />
<line x1="433.20" y1="553.20" x2="433.20" y2="566.50" stroke="#c6c6c2" stroke-width="0.8" />
<line x1="337.80" y1="539.20" x2="337.80" y2="566.50" stroke="#c6c6c2" stroke-width="0.8" />
<line x1="35.65" y1="553.20" x2="35.65" y2="566.50" stroke="#d2d2ce" stroke-width="0.7" />
<line x1="41.05" y1="553.20" x2="41.05" y2="566.50" stroke="#d2d2ce" stroke-width="0.7" />
<line x1="51.85" y1="553.20" x2="51.85" y2="566.50" stroke="#d2d2ce" stroke-width="0.7" />
<line x1="56.40" y1="553.20" x2="56.40" y2="566.50" stroke="#d2d2ce" stroke-width="0.7" />
<line x1="59.35" y1="553.20" x2="59.35" y2="566.50" stroke="#d2d2ce" stroke-width="0.7" />
<line x1="63.85" y1="553.20" x2="63.85" y2="566.50" stroke="#d2d2ce" stroke-width="0.7" />
<line x1="67.65" y1="553.20" x2="67.65" y2="566.50" stroke="#d2d2ce" stroke-width="0.7" />
<line x1="70.65" y1="553.20" x2="70.65" y2="566.50" stroke="#d2d2ce" stroke-width="0.7" />
<line x1="77.25" y1="553.20" x2="77.25" y2="566.50" stroke="#d2d2ce" stroke-width="0.7" />
<line x1="80.30" y1="553.20" x2="80.30" y2="566.50" stroke="#d2d2ce" stroke-width="0.7" />
<line x1="84.00" y1="553.20" x2="84.00" y2="566.50" stroke="#d2d2ce" stroke-width="0.7" />
<line x1="89.55" y1="553.20" x2="89.55" y2="566.50" stroke="#d2d2ce" stroke-width="0.7" />
<line x1="92.15" y1="553.20" x2="92.15" y2="566.50" stroke="#d2d2ce" stroke-width="0.7" />
<line x1="97.05" y1="553.20" x2="97.05" y2="566.50" stroke="#d2d2ce" stroke-width="0.7" />
<line x1="106.70" y1="553.20" x2="106.70" y2="566.50" stroke="#d2d2ce" stroke-width="0.7" />
<line x1="110.45" y1="553.20" x2="110.45" y2="566.50" stroke="#d2d2ce" stroke-width="0.7" />
<line x1="113.85" y1="553.20" x2="113.85" y2="566.50" stroke="#d2d2ce" stroke-width="0.7" />
<line x1="121.60" y1="553.20" x2="121.60" y2="566.50" stroke="#d2d2ce" stroke-width="0.7" />
<line x1="124.45" y1="553.20" x2="124.45" y2="566.50" stroke="#d2d2ce" stroke-width="0.7" />
<line x1="129.35" y1="553.20" x2="129.35" y2="566.50" stroke="#d2d2ce" stroke-width="0.7" />
<line x1="132.50" y1="553.20" x2="132.50" y2="566.50" stroke="#d2d2ce" stroke-width="0.7" />
<line x1="136.95" y1="553.20" x2="136.95" y2="566.50" stroke="#d2d2ce" stroke-width="0.7" />
<line x1="144.65" y1="553.20" x2="144.65" y2="566.50" stroke="#d2d2ce" stroke-width="0.7" />
<line x1="148.15" y1="553.20" x2="148.15" y2="566.50" stroke="#d2d2ce" stroke-width="0.7" />
<line x1="151.10" y1="553.20" x2="151.10" y2="566.50" stroke="#d2d2ce" stroke-width="0.7" />
<line x1="161.35" y1="553.20" x2="161.35" y2="566.50" stroke="#d2d2ce" stroke-width="0.7" />
<line x1="193.15" y1="553.20" x2="193.15" y2="566.50" stroke="#d2d2ce" stroke-width="0.7" />
<line x1="196.25" y1="553.20" x2="196.25" y2="566.50" stroke="#d2d2ce" stroke-width="0.7" />
<line x1="199.05" y1="553.20" x2="199.05" y2="566.50" stroke="#d2d2ce" stroke-width="0.7" />
<line x1="206.30" y1="553.20" x2="206.30" y2="566.50" stroke="#d2d2ce" stroke-width="0.7" />
<line x1="216.35" y1="553.20" x2="216.35" y2="566.50" stroke="#d2d2ce" stroke-width="0.7" />
<line x1="218.85" y1="553.20" x2="218.85" y2="566.50" stroke="#d2d2ce" stroke-width="0.7" />
<line x1="223.90" y1="553.20" x2="223.90" y2="566.50" stroke="#d2d2ce" stroke-width="0.7" />
<line x1="228.80" y1="553.20" x2="228.80" y2="566.50" stroke="#d2d2ce" stroke-width="0.7" />
<line x1="231.45" y1="553.20" x2="231.45" y2="566.50" stroke="#d2d2ce" stroke-width="0.7" />
<line x1="234.65" y1="553.20" x2="234.65" y2="566.50" stroke="#d2d2ce" stroke-width="0.7" />
<line x1="242.60" y1="553.20" x2="242.60" y2="566.50" stroke="#d2d2ce" stroke-width="0.7" />
<line x1="260.50" y1="553.20" x2="260.50" y2="566.50" stroke="#d2d2ce" stroke-width="0.7" />
<line x1="264.40" y1="553.20" x2="264.40" y2="566.50" stroke="#d2d2ce" stroke-width="0.7" />
<line x1="269.45" y1="553.20" x2="269.45" y2="566.50" stroke="#d2d2ce" stroke-width="0.7" />
<line x1="272.95" y1="553.20" x2="272.95" y2="566.50" stroke="#d2d2ce" stroke-width="0.7" />
<line x1="289.75" y1="553.20" x2="289.75" y2="566.50" stroke="#d2d2ce" stroke-width="0.7" />
<line x1="294.45" y1="553.20" x2="294.45" y2="566.50" stroke="#d2d2ce" stroke-width="0.7" />
<line x1="316.75" y1="553.20" x2="316.75" y2="566.50" stroke="#d2d2ce" stroke-width="0.7" />
<line x1="319.55" y1="553.20" x2="319.55" y2="566.50" stroke="#d2d2ce" stroke-width="0.7" />
<line x1="322.40" y1="553.20" x2="322.40" y2="566.50" stroke="#d2d2ce" stroke-width="0.7" />
<line x1="325.25" y1="553.20" x2="325.25" y2="566.50" stroke="#d2d2ce" stroke-width="0.7" />
<line x1="327.75" y1="553.20" x2="327.75" y2="566.50" stroke="#d2d2ce" stroke-width="0.7" />
<line x1="337.35" y1="553.20" x2="337.35" y2="566.50" stroke="#d2d2ce" stroke-width="0.7" />
<line x1="340.50" y1="553.20" x2="340.50" y2="566.50" stroke="#d2d2ce" stroke-width="0.7" />
<line x1="343.75" y1="553.20" x2="343.75" y2="566.50" stroke="#d2d2ce" stroke-width="0.7" />
<line x1="347.25" y1="553.20" x2="347.25" y2="566.50" stroke="#d2d2ce" stroke-width="0.7" />
<line x1="356.55" y1="553.20" x2="356.55" y2="566.50" stroke="#d2d2ce" stroke-width="0.7" />
<line x1="366.05" y1="553.20" x2="366.05" y2="566.50" stroke="#d2d2ce" stroke-width="0.7" />
<line x1="371.90" y1="553.20" x2="371.90" y2="566.50" stroke="#d2d2ce" stroke-width="0.7" />
<line x1="375.20" y1="553.20" x2="375.20" y2="566.50" stroke="#d2d2ce" stroke-width="0.7" />
<line x1="379.05" y1="553.20" x2="379.05" y2="566.50" stroke="#d2d2ce" stroke-width="0.7" />
<line x1="402.20" y1="553.20" x2="402.20" y2="566.50" stroke="#d2d2ce" stroke-width="0.7" />
<line x1="410.55" y1="553.20" x2="410.55" y2="566.50" stroke="#d2d2ce" stroke-width="0.7" />
<line x1="423.35" y1="553.20" x2="423.35" y2="566.50" stroke="#d2d2ce" stroke-width="0.7" />
<line x1="426.40" y1="553.20" x2="426.40" y2="566.50" stroke="#d2d2ce" stroke-width="0.7" />
<line x1="431.75" y1="553.20" x2="431.75" y2="566.50" stroke="#d2d2ce" stroke-width="0.7" />
<rect x="33.20" y="566.10" width="400.70" height="7.90" fill="#bcbdb6"/>
<circle cx="34.30" cy="553.20" r="1.65" fill="#e5853c" />
<circle cx="37.00" cy="553.20" r="1.65" fill="#2dcc0a" />
<circle cx="37.60" cy="546.20" r="1.65" fill="#2dcc0a" />
<circle cx="39.00" cy="553.20" r="1.65" fill="#2dcc0a" />
<circle cx="43.10" cy="553.20" r="1.65" fill="#000" />
<circle cx="45.40" cy="546.20" r="1.65" fill="#e5853c" />
<circle cx="45.60" cy="553.20" r="1.65" fill="#000" />
<circle cx="48.00" cy="518.20" r="1.65" fill="#000" />
<circle cx="48.70" cy="553.20" r="1.65" fill="#2dcc0a" />
<circle cx="50.60" cy="553.20" r="1.65" fill="#2dcc0a" />
<circle cx="53.10" cy="553.20" r="1.65" fill="#000" />
<circle cx="53.40" cy="532.20" r="1.65" fill="#e5853c" />
<circle cx="55.00" cy="553.20" r="1.65" fill="#000" />
<circle cx="57.80" cy="553.20" r="1.65" fill="#000" />
<circle cx="60.90" cy="553.20" r="1.65" fill="#2dcc0a" />
<circle cx="62.40" cy="546.20" r="1.65" fill="#000" />
<circle cx="62.50" cy="553.20" r="1.65" fill="#000" />
<circle cx="65.20" cy="553.20" r="1.65" fill="#2dcc0a" />
<circle cx="65.90" cy="553.20" r="1.65" fill="#e5853c" />
<circle cx="69.40" cy="553.20" r="1.65" fill="#000" />
<circle cx="71.90" cy="553.20" r="1.65" fill="#2dcc0a" />
<circle cx="73.80" cy="553.20" r="1.65" fill="#2dcc0a" />
<circle cx="73.80" cy="532.20" r="1.65" fill="#000" />
<circle cx="75.70" cy="553.20" r="1.65" fill="#2dcc0a" />
<circle cx="78.80" cy="553.20" r="1.65" fill="#e5853c" />
<circle cx="81.80" cy="546.20" r="1.65" fill="#2dcc0a" />
<circle cx="82.00" cy="553.20" r="1.65" fill="#000" />
<circle cx="86.00" cy="553.20" r="1.65" fill="#000" />
<circle cx="88.30" cy="553.20" r="1.65" fill="#e5853c" />
<circle cx="90.80" cy="553.20" r="1.65" fill="#2dcc0a" />
<circle cx="93.50" cy="553.20" r="1.65" fill="#e5853c" />
<circle cx="93.60" cy="546.20" r="1.65" fill="#e5853c" />
<circle cx="95.80" cy="553.20" r="1.65" fill="#2dcc0a" />
<circle cx="98.30" cy="553.20" r="1.65" fill="#2dcc0a" />
<circle cx="98.60" cy="518.20" r="1.65" fill="#000" />
<circle cx="100.20" cy="553.20" r="1.65" fill="#000" />
<circle cx="102.00" cy="546.20" r="1.65" fill="#e5853c" />
<circle cx="103.30" cy="553.20" r="1.65" fill="#000" />
<circle cx="103.80" cy="490.20" r="1.65" fill="#000" />
<circle cx="104.20" cy="546.20" r="1.65" fill="#000" />
<circle cx="104.80" cy="553.20" r="1.65" fill="#000" />
<circle cx="108.60" cy="553.20" r="1.65" fill="#000" />
<circle cx="112.30" cy="553.20" r="1.65" fill="#2dcc0a" />
<circle cx="115.40" cy="553.20" r="1.65" fill="#000" />
<circle cx="117.40" cy="539.20" r="1.65" fill="#e5853c" />
<circle cx="118.50" cy="553.20" r="1.65" fill="#2dcc0a" />
<circle cx="120.00" cy="553.20" r="1.65" fill="#2dcc0a" />
<circle cx="123.20" cy="553.20" r="1.65" fill="#000" />
<circle cx="125.70" cy="553.20" r="1.65" fill="#000" />
<circle cx="127.60" cy="553.20" r="1.65" fill="#000" />
<circle cx="131.10" cy="553.20" r="1.65" fill="#000" />
<circle cx="133.90" cy="553.20" r="1.65" fill="#2dcc0a" />
<circle cx="135.70" cy="553.20" r="1.65" fill="#2dcc0a" />
<circle cx="138.20" cy="553.20" r="1.65" fill="#2dcc0a" />
<circle cx="138.50" cy="532.20" r="1.65" fill="#000" />
<circle cx="139.90" cy="546.20" r="1.65" fill="#000" />
<circle cx="141.60" cy="546.20" r="1.65" fill="#2dcc0a" />
<circle cx="142.90" cy="553.20" r="1.65" fill="#e5853c" />
<circle cx="146.40" cy="546.20" r="1.65" fill="#000" />
<circle cx="146.80" cy="553.20" r="1.65" fill="#2dcc0a" />
<circle cx="149.50" cy="553.20" r="1.65" fill="#2dcc0a" />
<circle cx="152.70" cy="546.20" r="1.65" fill="#000" />
<circle cx="154.60" cy="546.20" r="1.65" fill="#000" />
<circle cx="155.80" cy="546.20" r="1.65" fill="#000" />
<circle cx="157.10" cy="553.20" r="1.65" fill="#000" />
<circle cx="159.30" cy="553.20" r="1.65" fill="#000" />
<circle cx="163.40" cy="553.20" r="1.65" fill="#000" />
<circle cx="163.40" cy="539.20" r="1.65" fill="#e5853c" />
<circle cx="164.90" cy="553.20" r="1.65" fill="#000" />
<circle cx="166.70" cy="539.20" r="1.65" fill="#2dcc0a" />
<circle cx="168.00" cy="553.20" r="1.65" fill="#2dcc0a" />
<circle cx="170.30" cy="553.20" r="1.65" fill="#2dcc0a" />
<circle cx="172.40" cy="553.20" r="1.65" fill="#000" />
<circle cx="173.20" cy="546.20" r="1.65" fill="#000" />
<circle cx="174.30" cy="553.20" r="1.65" fill="#2dcc0a" />
<circle cx="176.30" cy="553.20" r="1.65" fill="#000" />
<circle cx="176.50" cy="546.20" r="1.65" fill="#2dcc0a" />
<circle cx="178.80" cy="532.20" r="1.65" fill="#2dcc0a" />
<circle cx="179.00" cy="553.20" r="1.65" fill="#2dcc0a" />
<circle cx="181.30" cy="553.20" r="1.65" fill="#2dcc0a" />
<circle cx="181.60" cy="532.20" r="1.65" fill="#2dcc0a" />
<circle cx="181.80" cy="546.20" r="1.65" fill="#000" />
<circle cx="184.10" cy="553.20" r="1.65" fill="#2dcc0a" />
<circle cx="186.30" cy="546.20" r="1.65" fill="#2dcc0a" />
<circle cx="186.60" cy="539.20" r="1.65" fill="#e5853c" />
<circle cx="188.50" cy="553.20" r="1.65" fill="#2dcc0a" />
<circle cx="189.50" cy="546.20" r="1.65" fill="#000" />
<circle cx="190.00" cy="546.20" r="1.65" fill="#000" />
<circle cx="191.60" cy="553.20" r="1.65" fill="#000" />
<circle cx="194.70" cy="553.20" r="1.65" fill="#000" />
<circle cx="197.80" cy="553.20" r="1.65" fill="#2dcc0a" />
<circle cx="197.80" cy="532.20" r="1.65" fill="#000" />
<circle cx="200.30" cy="553.20" r="1.65" fill="#2dcc0a" />
<circle cx="204.80" cy="546.20" r="1.65" fill="#2dcc0a" />
<circle cx="207.80" cy="553.20" r="1.65" fill="#000" />
<circle cx="210.10" cy="553.20" r="1.65" fill="#000" />
<circle cx="210.70" cy="546.20" r="1.65" fill="#000" />
<circle cx="212.30" cy="553.20" r="1.65" fill="#000" />
<circle cx="212.60" cy="497.20" r="1.65" fill="#000" />
<circle cx="212.90" cy="546.20" r="1.65" fill="#000" />
<circle cx="214.50" cy="553.20" r="1.65" fill="#000" />
<circle cx="215.10" cy="546.20" r="1.65" fill="#000" />
<circle cx="217.60" cy="553.20" r="1.65" fill="#2dcc0a" />
<circle cx="220.10" cy="553.20" r="1.65" fill="#2dcc0a" />
<circle cx="222.40" cy="546.20" r="1.65" fill="#000" />
<circle cx="222.60" cy="553.20" r="1.65" fill="#2dcc0a" />
<circle cx="225.20" cy="553.20" r="1.65" fill="#2dcc0a" />
<circle cx="227.40" cy="553.20" r="1.65" fill="#2dcc0a" />
<circle cx="230.20" cy="546.20" r="1.65" fill="#000" />
<circle cx="232.70" cy="553.20" r="1.65" fill="#000" />
<circle cx="233.10" cy="546.20" r="1.65" fill="#2dcc0a" />
<circle cx="236.20" cy="553.20" r="1.65" fill="#2dcc0a" />
<circle cx="240.60" cy="546.20" r="1.65" fill="#2dcc0a" />
<circle cx="241.20" cy="553.20" r="1.65" fill="#2dcc0a" />
<circle cx="244.00" cy="553.20" r="1.65" fill="#000" />
<circle cx="244.40" cy="546.20" r="1.65" fill="#000" />
<circle cx="246.70" cy="553.20" r="1.65" fill="#2dcc0a" />
<circle cx="247.10" cy="546.20" r="1.65" fill="#000" />
<circle cx="248.80" cy="553.20" r="1.65" fill="#000" />
<circle cx="250.00" cy="546.20" r="1.65" fill="#2dcc0a" />
<circle cx="250.90" cy="553.20" r="1.65" fill="#2dcc0a" />
<circle cx="252.80" cy="546.20" r="1.65" fill="#000" />
<circle cx="253.20" cy="553.20" r="1.65" fill="#000" />
<circle cx="254.70" cy="511.20" r="1.65" fill="#2dcc0a" />
<circle cx="256.50" cy="553.20" r="1.65" fill="#2dcc0a" />
<circle cx="257.20" cy="546.20" r="1.65" fill="#2dcc0a" />
<circle cx="258.80" cy="553.20" r="1.65" fill="#2dcc0a" />
<circle cx="262.20" cy="553.20" r="1.65" fill="#2dcc0a" />
<circle cx="263.10" cy="546.20" r="1.65" fill="#000" />
<circle cx="265.70" cy="546.20" r="1.65" fill="#2dcc0a" />
<circle cx="266.10" cy="532.20" r="1.65" fill="#000" />
<circle cx="267.60" cy="553.20" r="1.65" fill="#e5853c" />
<circle cx="271.30" cy="539.20" r="1.65" fill="#000" />
<circle cx="274.60" cy="546.20" r="1.65" fill="#000" />
<circle cx="275.10" cy="553.20" r="1.65" fill="#2dcc0a" />
<circle cx="277.30" cy="553.20" r="1.65" fill="#000" />
<circle cx="279.40" cy="553.20" r="1.65" fill="#2dcc0a" />
<circle cx="280.70" cy="546.20" r="1.65" fill="#2dcc0a" />
<circle cx="281.30" cy="553.20" r="1.65" fill="#000" />
<circle cx="283.20" cy="539.20" r="1.65" fill="#e5853c" />
<circle cx="283.80" cy="553.20" r="1.65" fill="#000" />
<circle cx="288.20" cy="553.20" r="1.65" fill="#000" />
<circle cx="291.30" cy="553.20" r="1.65" fill="#e5853c" />
<circle cx="293.20" cy="553.20" r="1.65" fill="#2dcc0a" />
<circle cx="295.70" cy="553.20" r="1.65" fill="#2dcc0a" />
<circle cx="297.60" cy="553.20" r="1.65" fill="#2dcc0a" />
<circle cx="302.00" cy="553.20" r="1.65" fill="#2dcc0a" />
<circle cx="303.90" cy="532.20" r="1.65" fill="#2dcc0a" />
<circle cx="305.80" cy="553.20" r="1.65" fill="#000" />
<circle cx="311.40" cy="546.20" r="1.65" fill="#000" />
<circle cx="312.70" cy="553.20" r="1.65" fill="#e5853c" />
<circle cx="313.30" cy="546.20" r="1.65" fill="#000" />
<circle cx="315.20" cy="553.20" r="1.65" fill="#000" />
<circle cx="318.30" cy="553.20" r="1.65" fill="#2dcc0a" />
<circle cx="320.80" cy="553.20" r="1.65" fill="#000" />
<circle cx="324.00" cy="553.20" r="1.65" fill="#2dcc0a" />
<circle cx="326.50" cy="553.20" r="1.65" fill="#000" />
<circle cx="326.50" cy="497.20" r="1.65" fill="#000" />
<circle cx="329.00" cy="553.20" r="1.65" fill="#000" />
<circle cx="331.10" cy="546.20" r="1.65" fill="#000" />
<circle cx="331.50" cy="553.20" r="1.65" fill="#2dcc0a" />
<circle cx="333.80" cy="546.20" r="1.65" fill="#000" />
<circle cx="334.00" cy="553.20" r="1.65" fill="#000" />
<circle cx="335.90" cy="553.20" r="1.65" fill="#000" />
<circle cx="338.80" cy="553.20" r="1.65" fill="#2dcc0a" />
<circle cx="342.20" cy="553.20" r="1.65" fill="#2dcc0a" />
<circle cx="345.30" cy="546.20" r="1.65" fill="#2dcc0a" />
<circle cx="345.70" cy="553.20" r="1.65" fill="#000" />
<circle cx="348.80" cy="553.20" r="1.65" fill="#2dcc0a" />
<circle cx="349.50" cy="546.20" r="1.65" fill="#2dcc0a" />
<circle cx="351.20" cy="546.20" r="1.65" fill="#2dcc0a" />
<circle cx="351.60" cy="553.20" r="1.65" fill="#000" />
<circle cx="352.20" cy="546.20" r="1.65" fill="#2dcc0a" />
<circle cx="352.90" cy="546.20" r="1.65" fill="#2dcc0a" />
<circle cx="353.90" cy="546.20" r="1.65" fill="#e5853c" />
<circle cx="355.10" cy="553.20" r="1.65" fill="#000" />
<circle cx="358.00" cy="553.20" r="1.65" fill="#2dcc0a" />
<circle cx="359.50" cy="546.20" r="1.65" fill="#000" />
<circle cx="360.20" cy="553.20" r="1.65" fill="#2dcc0a" />
<circle cx="362.40" cy="553.20" r="1.65" fill="#2dcc0a" />
<circle cx="364.60" cy="553.20" r="1.65" fill="#e5853c" />
<circle cx="367.50" cy="553.20" r="1.65" fill="#2dcc0a" />
<circle cx="368.50" cy="546.20" r="1.65" fill="#2dcc0a" />
<circle cx="370.40" cy="553.20" r="1.65" fill="#2dcc0a" />
<circle cx="373.40" cy="553.20" r="1.65" fill="#000" />
<circle cx="377.00" cy="553.20" r="1.65" fill="#2dcc0a" />
<circle cx="381.10" cy="553.20" r="1.65" fill="#000" />
<circle cx="382.10" cy="539.20" r="1.65" fill="#2dcc0a" />
<circle cx="383.60" cy="553.20" r="1.65" fill="#000" />
<circle cx="385.80" cy="553.20" r="1.65" fill="#2dcc0a" />
<circle cx="388.20" cy="553.20" r="1.65" fill="#000" />
<circle cx="389.40" cy="546.20" r="1.65" fill="#000" />
<circle cx="390.90" cy="553.20" r="1.65" fill="#2dcc0a" />
<circle cx="392.30" cy="546.20" r="1.65" fill="#2dcc0a" />
<circle cx="393.80" cy="553.20" r="1.65" fill="#000" />
<circle cx="395.30" cy="546.20" r="1.65" fill="#2dcc0a" />
<circle cx="396.70" cy="553.20" r="1.65" fill="#2dcc0a" />
<circle cx="398.90" cy="546.20" r="1.65" fill="#000" />
<circle cx="400.40" cy="553.20" r="1.65" fill="#000" />
<circle cx="404.00" cy="553.20" r="1.65" fill="#000" />
<circle cx="404.70" cy="546.20" r="1.65" fill="#2dcc0a" />
<circle cx="409.10" cy="553.20" r="1.65" fill="#000" />
<circle cx="412.00" cy="553.20" r="1.65" fill="#000" />
<circle cx="419.80" cy="553.20" r="1.65" fill="#2dcc0a" />
<circle cx="422.00" cy="546.20" r="1.65" fill="#000" />
<circle cx="424.70" cy="553.20" r="1.65" fill="#000" />
<circle cx="428.10" cy="553.20" r="1.65" fill="#2dcc0a" />
<circle cx="430.30" cy="553.20" r="1.65" fill="#2dcc0a" />
<circle cx="433.20" cy="553.20" r="1.65" fill="#000" />
<circle cx="337.80" cy="539.40" r="3.0" fill="#e08030" />
<rect x="50.00" y="563.00" width="17.90" height="14.50" fill="#2dcb09"/>
<text x="58.95" y="573.20" font-size="7.8" text-anchor="middle" fill="#fff" textLength="8.80" lengthAdjust="spacingAndGlyphs">B..</text>
<rect x="83.20" y="563.00" width="19.50" height="14.50" fill="#2dcb09"/>
<text x="92.95" y="573.20" font-size="7.8" text-anchor="middle" fill="#fff" textLength="8.80" lengthAdjust="spacingAndGlyphs">B..</text>
<rect x="134.20" y="563.00" width="18.70" height="14.50" fill="#2dcb09"/>
<text x="143.55" y="573.20" font-size="7.8" text-anchor="middle" fill="#fff" textLength="8.80" lengthAdjust="spacingAndGlyphs">B..</text>
<rect x="170.00" y="563.00" width="18.10" height="14.50" fill="#2dcb09"/>
<text x="179.05" y="573.20" font-size="7.8" text-anchor="middle" fill="#fff" textLength="8.80" lengthAdjust="spacingAndGlyphs">B..</text>
<rect x="204.10" y="563.00" width="18.80" height="14.50" fill="#2dcb09"/>
<text x="213.50" y="573.20" font-size="7.8" text-anchor="middle" fill="#fff" textLength="8.80" lengthAdjust="spacingAndGlyphs">B..</text>
<rect x="236.20" y="563.00" width="16.20" height="14.50" fill="#2dcb09"/>
<text x="244.30" y="573.20" font-size="7.8" text-anchor="middle" fill="#fff" textLength="8.80" lengthAdjust="spacingAndGlyphs">B..</text>
<rect x="283.20" y="563.00" width="15.40" height="14.50" fill="#fb545c"/>
<rect x="319.60" y="563.00" width="29.10" height="14.50" fill="#fb545c"/>
<text x="334.20" y="572.40" font-size="7.4" text-anchor="middle" fill="#fff" textLength="14.30" lengthAdjust="spacingAndGlyphs">BAH</text>
<rect x="369.30" y="563.00" width="12.80" height="14.50" fill="#5b5bfb"/>
<line x1="33.40" y1="580.60" x2="433.60" y2="580.60" stroke="#aaa" stroke-width="0.8" />
<line x1="33.40" y1="580.60" x2="33.40" y2="584.00" stroke="#aaa" stroke-width="0.8" />
<line x1="83.94" y1="580.60" x2="83.94" y2="584.00" stroke="#aaa" stroke-width="0.8" />
<line x1="134.48" y1="580.60" x2="134.48" y2="584.00" stroke="#aaa" stroke-width="0.8" />
<line x1="185.02" y1="580.60" x2="185.02" y2="584.00" stroke="#aaa" stroke-width="0.8" />
<line x1="235.56" y1="580.60" x2="235.56" y2="584.00" stroke="#aaa" stroke-width="0.8" />
<line x1="286.10" y1="580.60" x2="286.10" y2="584.00" stroke="#aaa" stroke-width="0.8" />
<line x1="336.64" y1="580.60" x2="336.64" y2="584.00" stroke="#aaa" stroke-width="0.8" />
<line x1="387.18" y1="580.60" x2="387.18" y2="584.00" stroke="#aaa" stroke-width="0.8" />
<line x1="433.17" y1="580.60" x2="433.17" y2="584.00" stroke="#aaa" stroke-width="0.8" />
<text x="33.40" y="591.00" font-size="5.8" text-anchor="middle" fill="#222">0</text>
<text x="134.48" y="591.00" font-size="5.8" text-anchor="middle" fill="#222">400</text>
<text x="235.56" y="591.00" font-size="5.8" text-anchor="middle" fill="#222">800</text>
<text x="336.64" y="591.00" font-size="5.8" text-anchor="middle" fill="#222">1200</text>
<text x="433.20" y="591.00" font-size="5.8" text-anchor="middle" fill="#222">1582aa</text>
<text x="20.40" y="616.00" font-size="13.65" text-anchor="start" textLength="206.50" lengthAdjust="spacingAndGlyphs">Combined Study (10967 samples)</text>
<text x="20.40" y="632.00" font-size="13.65" text-anchor="start" textLength="332.40" lengthAdjust="spacingAndGlyphs">Querying 10967 samples / 10953 patients in 32 studies</text>
<text x="361.90" y="632.00" font-size="13.65" text-anchor="start" textLength="46.20" lengthAdjust="spacingAndGlyphs">PBRM1</text>
<text x="465.80" y="513.70" font-size="10.66" text-anchor="start" fill="#333" textLength="135.50" lengthAdjust="spacingAndGlyphs">Somatic Mutation Frequency</text>
<circle cx="608.00" cy="510.00" r="4.1" fill="#333" />
<text x="608.00" y="513.00" font-size="7" text-anchor="middle" font-weight="bold" fill="#fff" font-family="Liberation Serif, serif">i</text>
<text x="622.70" y="514.00" font-size="8.6" text-anchor="start" font-weight="bold" fill="#111" textLength="20.60" lengthAdjust="spacingAndGlyphs">3.9%</text>
<text x="545.00" y="530.00" font-size="10.3" text-anchor="start" font-weight="bold" textLength="30.00" lengthAdjust="spacingAndGlyphs">Driver</text>
<text x="605.60" y="530.00" font-size="10.3" text-anchor="start" font-weight="bold" fill="#606060" textLength="20.80" lengthAdjust="spacingAndGlyphs" stroke="#606060" stroke-width="0.25">VUS</text>
<line x1="464.00" y1="549.50" x2="651.00" y2="549.50" stroke="#e8e8e8" stroke-width="0.8" />
<rect x="549.60" y="536.40" width="24.60" height="12.20" fill="#000" rx="6.1" ry="6.1"/>
<text x="561.90" y="545.00" font-size="9" text-anchor="middle" font-weight="bold" fill="#fff">274</text>
<rect x="605.20" y="536.40" width="25.40" height="12.20" fill="#6e6e6e" rx="6.1" ry="6.1"/>
<text x="617.90" y="545.00" font-size="9" text-anchor="middle" font-weight="bold" fill="#fff">218</text>
<text x="518.60" y="562.00" font-size="10.4" text-anchor="end" font-weight="bold" fill="#3e8e25" textLength="46.60" lengthAdjust="spacingAndGlyphs">Missense</text>
<rect x="558.80" y="553.20" width="15.40" height="12.20" fill="#3c8a1f" rx="6.1" ry="6.1"/>
<text x="566.50" y="562.00" font-size="9" text-anchor="middle" font-weight="bold" fill="#fff">0</text>
<rect x="605.20" y="553.20" width="25.40" height="12.20" fill="#72d23a" rx="6.1" ry="6.1"/>
<text x="617.90" y="562.00" font-size="9" text-anchor="middle" font-weight="bold" fill="#fff">214</text>
<text x="518.60" y="578.00" font-size="10.4" text-anchor="end" font-weight="bold" textLength="52.60" lengthAdjust="spacingAndGlyphs">Truncating</text>
<rect x="549.60" y="568.90" width="24.60" height="12.20" fill="#000" rx="6.1" ry="6.1"/>
<text x="561.90" y="578.00" font-size="9" text-anchor="middle" font-weight="bold" fill="#fff">218</text>
<rect x="615.00" y="568.90" width="15.60" height="12.20" fill="#6f7d8e" rx="6.1" ry="6.1"/>
<text x="622.80" y="578.00" font-size="9" text-anchor="middle" font-weight="bold" fill="#fff">0</text>
<text x="518.60" y="594.00" font-size="10.4" text-anchor="end" font-weight="bold" fill="#99421f" textLength="38.00" lengthAdjust="spacingAndGlyphs">Inframe</text>
<rect x="558.80" y="585.10" width="15.40" height="12.20" fill="#963c14" rx="6.1" ry="6.1"/>
<text x="566.50" y="594.00" font-size="9" text-anchor="middle" font-weight="bold" fill="#fff">0</text>
<rect x="615.00" y="585.10" width="15.60" height="12.20" fill="#9b7632" rx="6.1" ry="6.1"/>
<text x="622.80" y="594.00" font-size="9" text-anchor="middle" font-weight="bold" fill="#fff">4</text>
<text x="518.60" y="610.00" font-size="10.4" text-anchor="end" font-weight="bold" fill="#e08c52" textLength="30.60" lengthAdjust="spacingAndGlyphs">Splice</text>
<rect x="553.80" y="601.20" width="20.40" height="12.20" fill="#e08340" rx="6.1" ry="6.1"/>
<text x="564.00" y="610.00" font-size="9" text-anchor="middle" font-weight="bold" fill="#fff">42</text>
<rect x="615.00" y="601.20" width="15.60" height="12.20" fill="#eaba85" rx="6.1" ry="6.1"/>
<text x="622.80" y="610.00" font-size="9" text-anchor="middle" font-weight="bold" fill="#fff">0</text>
<text x="518.60" y="626.00" font-size="10.4" text-anchor="end" font-weight="bold" fill="#8a20c8" textLength="33.00" lengthAdjust="spacingAndGlyphs">Fusion</text>
<rect x="553.80" y="617.40" width="20.40" height="12.20" fill="#8a22c9" rx="6.1" ry="6.1"/>
<text x="564.00" y="626.00" font-size="9" text-anchor="middle" font-weight="bold" fill="#fff">14</text>
<rect x="615.00" y="617.40" width="15.60" height="12.20" fill="#c599e8" rx="6.1" ry="6.1"/>
<text x="622.80" y="626.00" font-size="9" text-anchor="middle" font-weight="bold" fill="#fff">0</text>
</g>
<g id="panelD">
<text x="12.60" y="699.90" font-size="22.9" text-anchor="start" font-weight="bold" textLength="15.00" lengthAdjust="spacingAndGlyphs" stroke="#000" stroke-width="0.7">D</text>
<text x="218.60" y="705.00" font-size="11.2" text-anchor="middle" font-weight="bold" fill="#333" textLength="327.00" lengthAdjust="spacingAndGlyphs">Gene expression correlation between PBRM1 and EZH1 in</text>
<text x="218.60" y="718.70" font-size="11.2" text-anchor="middle" font-weight="bold" fill="#333" textLength="32.50" lengthAdjust="spacingAndGlyphs">CHOL</text>
<line x1="75.50" y1="897.50" x2="397.40" y2="897.50" stroke="#e6e6e6" stroke-width="0.9" />
<line x1="75.50" y1="870.00" x2="397.40" y2="870.00" stroke="#e6e6e6" stroke-width="0.9" />
<line x1="75.50" y1="842.50" x2="397.40" y2="842.50" stroke="#e6e6e6" stroke-width="0.9" />
<line x1="75.50" y1="815.00" x2="397.40" y2="815.00" stroke="#e6e6e6" stroke-width="0.9" />
<line x1="75.50" y1="787.50" x2="397.40" y2="787.50" stroke="#e6e6e6" stroke-width="0.9" />
<line x1="75.50" y1="760.00" x2="397.40" y2="760.00" stroke="#e6e6e6" stroke-width="0.9" />
<line x1="75.50" y1="732.50" x2="397.40" y2="732.50" stroke="#e6e6e6" stroke-width="0.9" />
<text x="66.60" y="929.20" font-size="9.2" text-anchor="end" fill="#111">0</text>
<text x="66.60" y="901.70" font-size="9.2" text-anchor="end" fill="#111">5</text>
<text x="66.60" y="874.20" font-size="9.2" text-anchor="end" fill="#111">10</text>
<text x="66.60" y="846.70" font-size="9.2" text-anchor="end" fill="#111">15</text>
<text x="66.60" y="819.20" font-size="9.2" text-anchor="end" fill="#111">20</text>
<text x="66.60" y="791.70" font-size="9.2" text-anchor="end" fill="#111">25</text>
<text x="66.60" y="764.20" font-size="9.2" text-anchor="end" fill="#111">30</text>
<text x="66.60" y="736.70" font-size="9.2" text-anchor="end" fill="#111">35</text>
<circle cx="75.50" cy="924.20" r="3.0" fill="#e57878" fill-opacity="0.65"/>
<circle cx="97.20" cy="872.00" r="3.0" fill="#e57878" fill-opacity="0.65"/>
<circle cx="102.20" cy="875.80" r="3.0" fill="#e57878" fill-opacity="0.65"/>
<circle cx="102.70" cy="882.50" r="3.0" fill="#e57878" fill-opacity="0.65"/>
<circle cx="116.20" cy="874.50" r="3.0" fill="#e57878" fill-opacity="0.65"/>
<circle cx="127.90" cy="867.80" r="3.0" fill="#e57878" fill-opacity="0.65"/>
<circle cx="129.40" cy="866.80" r="3.0" fill="#e57878" fill-opacity="0.65"/>
<circle cx="140.90" cy="860.30" r="3.0" fill="#e57878" fill-opacity="0.65"/>
<circle cx="148.90" cy="869.50" r="3.0" fill="#e57878" fill-opacity="0.65"/>
<circle cx="159.40" cy="875.00" r="3.0" fill="#e57878" fill-opacity="0.65"/>
<circle cx="169.10" cy="863.30" r="3.0" fill="#e57878" fill-opacity="0.65"/>
<circle cx="172.80" cy="881.80" r="3.0" fill="#e57878" fill-opacity="0.65"/>
<circle cx="143.40" cy="836.30" r="3.0" fill="#e57878" fill-opacity="0.65"/>
<circle cx="145.90" cy="811.90" r="3.0" fill="#e57878" fill-opacity="0.65"/>
<circle cx="160.60" cy="843.80" r="3.0" fill="#e57878" fill-opacity="0.65"/>
<circle cx="164.90" cy="832.80" r="3.0" fill="#e57878" fill-opacity="0.65"/>
<circle cx="182.80" cy="787.90" r="3.0" fill="#e57878" fill-opacity="0.65"/>
<circle cx="186.60" cy="835.80" r="3.0" fill="#e57878" fill-opacity="0.65"/>
<circle cx="193.80" cy="812.40" r="3.0" fill="#e57878" fill-opacity="0.65"/>
<circle cx="198.80" cy="799.40" r="3.0" fill="#e57878" fill-opacity="0.65"/>
<circle cx="200.10" cy="856.60" r="3.0" fill="#e57878" fill-opacity="0.65"/>
<circle cx="210.50" cy="834.60" r="3.0" fill="#e57878" fill-opacity="0.65"/>
<circle cx="211.80" cy="801.90" r="3.0" fill="#e57878" fill-opacity="0.65"/>
<circle cx="215.50" cy="817.40" r="3.0" fill="#e57878" fill-opacity="0.65"/>
<circle cx="229.80" cy="785.40" r="3.0" fill="#e57878" fill-opacity="0.65"/>
<circle cx="237.60" cy="880.00" r="3.0" fill="#e57878" fill-opacity="0.65"/>
<circle cx="244.20" cy="876.50" r="3.0" fill="#e57878" fill-opacity="0.65"/>
<circle cx="245.00" cy="822.10" r="3.0" fill="#e57878" fill-opacity="0.65"/>
<circle cx="252.70" cy="791.60" r="3.0" fill="#e57878" fill-opacity="0.65"/>
<circle cx="254.20" cy="841.30" r="3.0" fill="#e57878" fill-opacity="0.65"/>
<circle cx="255.50" cy="859.30" r="3.0" fill="#e57878" fill-opacity="0.65"/>
<circle cx="264.00" cy="795.10" r="3.0" fill="#e57878" fill-opacity="0.65"/>
<circle cx="269.40" cy="829.60" r="3.0" fill="#e57878" fill-opacity="0.65"/>
<circle cx="285.90" cy="782.90" r="3.0" fill="#e57878" fill-opacity="0.65"/>
<circle cx="311.90" cy="837.10" r="3.0" fill="#e57878" fill-opacity="0.65"/>
<circle cx="341.80" cy="834.60" r="3.0" fill="#e57878" fill-opacity="0.65"/>
<circle cx="368.50" cy="757.00" r="3.0" fill="#e57878" fill-opacity="0.65"/>
<line x1="75.50" y1="732.00" x2="75.50" y2="925.60" stroke="#333" stroke-width="1.3" />
<line x1="74.90" y1="925.00" x2="398.00" y2="925.00" stroke="#333" stroke-width="1.3" />
<line x1="75.50" y1="925.00" x2="75.50" y2="929.20" stroke="#333" stroke-width="1.1" />
<text x="75.50" y="942.90" font-size="9.2" text-anchor="middle" fill="#111">0</text>
<line x1="115.75" y1="925.00" x2="115.75" y2="929.20" stroke="#333" stroke-width="1.1" />
<text x="115.75" y="942.90" font-size="9.2" text-anchor="middle" fill="#111">2</text>
<line x1="156.00" y1="925.00" x2="156.00" y2="929.20" stroke="#333" stroke-width="1.1" />
<text x="156.00" y="942.90" font-size="9.2" text-anchor="middle" fill="#111">4</text>
<line x1="196.25" y1="925.00" x2="196.25" y2="929.20" stroke="#333" stroke-width="1.1" />
<text x="196.25" y="942.90" font-size="9.2" text-anchor="middle" fill="#111">6</text>
<line x1="236.50" y1="925.00" x2="236.50" y2="929.20" stroke="#333" stroke-width="1.1" />
<text x="236.50" y="942.90" font-size="9.2" text-anchor="middle" fill="#111">8</text>
<line x1="276.75" y1="925.00" x2="276.75" y2="929.20" stroke="#333" stroke-width="1.1" />
<text x="276.75" y="942.90" font-size="9.2" text-anchor="middle" fill="#111">10</text>
<line x1="317.00" y1="925.00" x2="317.00" y2="929.20" stroke="#333" stroke-width="1.1" />
<text x="317.00" y="942.90" font-size="9.2" text-anchor="middle" fill="#111">12</text>
<line x1="357.25" y1="925.00" x2="357.25" y2="929.20" stroke="#333" stroke-width="1.1" />
<text x="357.25" y="942.90" font-size="9.2" text-anchor="middle" fill="#111">14</text>
<line x1="397.50" y1="925.00" x2="397.50" y2="929.20" stroke="#333" stroke-width="1.1" />
<text x="397.50" y="942.90" font-size="9.2" text-anchor="middle" fill="#111">16</text>
<text x="236.60" y="955.40" font-size="9.2" text-anchor="middle" fill="#111" textLength="136.00" lengthAdjust="spacingAndGlyphs">PBRM1 expression values (TPM)</text>
<text x="49.80" y="829.30" font-size="9.2" text-anchor="middle" fill="#111" textLength="128.00" lengthAdjust="spacingAndGlyphs" transform="rotate(-90 49.80 829.30)">EZH1 expression values (TPM)</text>
<rect x="352.30" y="899.30" width="44.50" height="17.40" fill="#fff" stroke="#999" stroke-width="0.8"/>
<circle cx="361.80" cy="908.40" r="3.0" fill="#e57878" fill-opacity="0.65"/>
<text x="370.30" y="911.30" font-size="8.2" text-anchor="start" fill="#333" textLength="22.70" lengthAdjust="spacingAndGlyphs">Tumor</text>
<text x="122.60" y="976.00" font-size="13.66" text-anchor="start" textLength="220.70" lengthAdjust="spacingAndGlyphs">Pearson Correlation coefficient: 0.62</text>
</g>
<g id="panelE">
<text x="442.90" y="699.90" font-size="22.9" text-anchor="start" font-weight="bold" textLength="11.30" lengthAdjust="spacingAndGlyphs" stroke="#000" stroke-width="0.7">E</text>
<text x="553.50" y="714.40" font-size="18.5" text-anchor="start" textLength="70.40" lengthAdjust="spacingAndGlyphs">GSK393</text>
<line x1="493.60" y1="737.00" x2="493.60" y2="936.90" stroke="#000" stroke-width="2.2" />
<line x1="487.40" y1="935.80" x2="685.00" y2="935.80" stroke="#000" stroke-width="2.2" />
<line x1="487.40" y1="935.80" x2="493.60" y2="935.80" stroke="#000" stroke-width="2.0" />
<text x="463.80" y="941.20" font-size="14.8" text-anchor="start" textLength="15.00" lengthAdjust="spacingAndGlyphs">10</text>
<text x="478.90" y="935.20" font-size="10.8" text-anchor="start" textLength="6.00" lengthAdjust="spacingAndGlyphs">0</text>
<line x1="490.00" y1="915.96" x2="493.60" y2="915.96" stroke="#000" stroke-width="1.3" />
<line x1="490.00" y1="904.36" x2="493.60" y2="904.36" stroke="#000" stroke-width="1.3" />
<line x1="490.00" y1="896.12" x2="493.60" y2="896.12" stroke="#000" stroke-width="1.3" />
<line x1="490.00" y1="889.74" x2="493.60" y2="889.74" stroke="#000" stroke-width="1.3" />
<line x1="490.00" y1="884.52" x2="493.60" y2="884.52" stroke="#000" stroke-width="1.3" />
<line x1="490.00" y1="880.11" x2="493.60" y2="880.11" stroke="#000" stroke-width="1.3" />
<line x1="490.00" y1="876.29" x2="493.60" y2="876.29" stroke="#000" stroke-width="1.3" />
<line x1="490.00" y1="872.92" x2="493.60" y2="872.92" stroke="#000" stroke-width="1.3" />
<line x1="487.40" y1="869.90" x2="493.60" y2="869.90" stroke="#000" stroke-width="2.0" />
<text x="463.80" y="875.30" font-size="14.8" text-anchor="start" textLength="15.00" lengthAdjust="spacingAndGlyphs">10</text>
<text x="478.90" y="869.30" font-size="10.8" text-anchor="start" textLength="6.00" lengthAdjust="spacingAndGlyphs">1</text>
<line x1="490.00" y1="850.06" x2="493.60" y2="850.06" stroke="#000" stroke-width="1.3" />
<line x1="490.00" y1="838.46" x2="493.60" y2="838.46" stroke="#000" stroke-width="1.3" />
<line x1="490.00" y1="830.22" x2="493.60" y2="830.22" stroke="#000" stroke-width="1.3" />
<line x1="490.00" y1="823.84" x2="493.60" y2="823.84" stroke="#000" stroke-width="1.3" />
<line x1="490.00" y1="818.62" x2="493.60" y2="818.62" stroke="#000" stroke-width="1.3" />
<line x1="490.00" y1="814.21" x2="493.60" y2="814.21" stroke="#000" stroke-width="1.3" />
<line x1="490.00" y1="810.39" x2="493.60" y2="810.39" stroke="#000" stroke-width="1.3" />
<line x1="490.00" y1="807.02" x2="493.60" y2="807.02" stroke="#000" stroke-width="1.3" />
<line x1="487.40" y1="804.00" x2="493.60" y2="804.00" stroke="#000" stroke-width="2.0" />
<text x="463.80" y="809.40" font-size="14.8" text-anchor="start" textLength="15.00" lengthAdjust="spacingAndGlyphs">10</text>
<text x="478.90" y="803.40" font-size="10.8" text-anchor="start" textLength="6.00" lengthAdjust="spacingAndGlyphs">2</text>
<line x1="490.00" y1="784.16" x2="493.60" y2="784.16" stroke="#000" stroke-width="1.3" />
<line x1="490.00" y1="772.56" x2="493.60" y2="772.56" stroke="#000" stroke-width="1.3" />
<line x1="490.00" y1="764.32" x2="493.60" y2="764.32" stroke="#000" stroke-width="1.3" />
<line x1="490.00" y1="757.94" x2="493.60" y2="757.94" stroke="#000" stroke-width="1.3" />
<line x1="490.00" y1="752.72" x2="493.60" y2="752.72" stroke="#000" stroke-width="1.3" />
<line x1="490.00" y1="748.31" x2="493.60" y2="748.31" stroke="#000" stroke-width="1.3" />
<line x1="490.00" y1="744.49" x2="493.60" y2="744.49" stroke="#000" stroke-width="1.3" />
<line x1="490.00" y1="741.12" x2="493.60" y2="741.12" stroke="#000" stroke-width="1.3" />
<line x1="487.40" y1="738.10" x2="493.60" y2="738.10" stroke="#000" stroke-width="2.0" />
<text x="463.80" y="743.50" font-size="14.8" text-anchor="start" textLength="15.00" lengthAdjust="spacingAndGlyphs">10</text>
<text x="478.90" y="737.50" font-size="10.8" text-anchor="start" textLength="6.00" lengthAdjust="spacingAndGlyphs">3</text>
<text x="454.60" y="836.50" font-size="16.7" text-anchor="middle" textLength="129.00" lengthAdjust="spacingAndGlyphs" transform="rotate(-90 454.60 836.50)">IC50 (micromolar)</text>
<line x1="541.20" y1="773.40" x2="541.20" y2="828.00" stroke="#000" stroke-width="1.7" />
<line x1="541.20" y1="859.60" x2="541.20" y2="883.60" stroke="#000" stroke-width="1.7" />
<line x1="524.40" y1="773.40" x2="558.00" y2="773.40" stroke="#000" stroke-width="1.7" />
<line x1="524.40" y1="883.60" x2="558.00" y2="883.60" stroke="#000" stroke-width="1.7" />
<rect x="509.80" y="828.60" width="63.20" height="31.00" fill="#a8a8a8" stroke="#000" stroke-width="1.7"/>
<line x1="509.80" y1="835.20" x2="573.00" y2="835.20" stroke="#000" stroke-width="1.7" />
<circle cx="541.00" cy="773.40" r="5.3" fill="#454545" />
<circle cx="535.40" cy="789.80" r="5.3" fill="#454545" />
<circle cx="546.80" cy="796.40" r="5.3" fill="#454545" />
<circle cx="541.00" cy="818.60" r="5.3" fill="#454545" />
<circle cx="535.30" cy="824.40" r="5.3" fill="#454545" />
<circle cx="546.70" cy="825.50" r="5.3" fill="#454545" />
<circle cx="519.00" cy="830.60" r="5.3" fill="#454545" />
<circle cx="563.00" cy="831.20" r="5.3" fill="#454545" />
<circle cx="529.40" cy="832.60" r="5.3" fill="#454545" />
<circle cx="552.60" cy="832.60" r="5.3" fill="#454545" />
<circle cx="529.00" cy="837.00" r="5.3" fill="#454545" />
<circle cx="541.00" cy="833.00" r="5.3" fill="#454545" />
<circle cx="553.00" cy="838.60" r="5.3" fill="#454545" />
<circle cx="541.00" cy="847.50" r="5.3" fill="#454545" />
<circle cx="517.00" cy="859.20" r="5.3" fill="#454545" />
<circle cx="529.00" cy="859.60" r="5.3" fill="#454545" />
<circle cx="553.00" cy="859.60" r="5.3" fill="#454545" />
<circle cx="565.00" cy="859.20" r="5.3" fill="#454545" />
<circle cx="541.00" cy="866.80" r="5.3" fill="#454545" />
<circle cx="529.00" cy="872.60" r="5.3" fill="#454545" />
<circle cx="553.00" cy="880.80" r="5.3" fill="#454545" />
<circle cx="541.00" cy="884.00" r="5.3" fill="#454545" />
<line x1="637.20" y1="829.60" x2="637.20" y2="838.00" stroke="#000" stroke-width="1.7" />
<line x1="637.20" y1="868.40" x2="637.20" y2="872.00" stroke="#000" stroke-width="1.7" />
<line x1="620.40" y1="829.60" x2="654.00" y2="829.60" stroke="#000" stroke-width="1.7" />
<line x1="620.40" y1="872.00" x2="654.00" y2="872.00" stroke="#000" stroke-width="1.7" />
<rect x="605.80" y="838.70" width="62.80" height="29.20" fill="#d8d8d8" stroke="#000" stroke-width="1.7"/>
<line x1="605.80" y1="848.70" x2="668.60" y2="848.70" stroke="#000" stroke-width="1.7" />
<circle cx="637.00" cy="829.60" r="5.3" fill="#d81f06" />
<circle cx="649.00" cy="842.00" r="5.3" fill="#d81f06" />
<circle cx="625.40" cy="846.00" r="5.3" fill="#d81f06" />
<circle cx="637.00" cy="851.60" r="5.3" fill="#d81f06" />
<circle cx="643.00" cy="866.60" r="5.3" fill="#d81f06" />
<circle cx="631.00" cy="872.00" r="5.3" fill="#d81f06" />
<line x1="541.20" y1="935.80" x2="541.20" y2="941.60" stroke="#000" stroke-width="2.0" />
<line x1="637.20" y1="935.80" x2="637.20" y2="941.60" stroke="#000" stroke-width="2.0" />
<text x="541.00" y="957.00" font-size="14.4" text-anchor="middle" textLength="21.60" lengthAdjust="spacingAndGlyphs">WT</text>
<text x="637.00" y="957.00" font-size="14.6" text-anchor="middle" textLength="82.80" lengthAdjust="spacingAndGlyphs">PBMR1 Mut.</text>
<text x="532.60" y="982.00" font-size="16.1" text-anchor="start" textLength="113.80" lengthAdjust="spacingAndGlyphs">KIRC Cell Lines</text>
</g>
</svg>
</body></html>
